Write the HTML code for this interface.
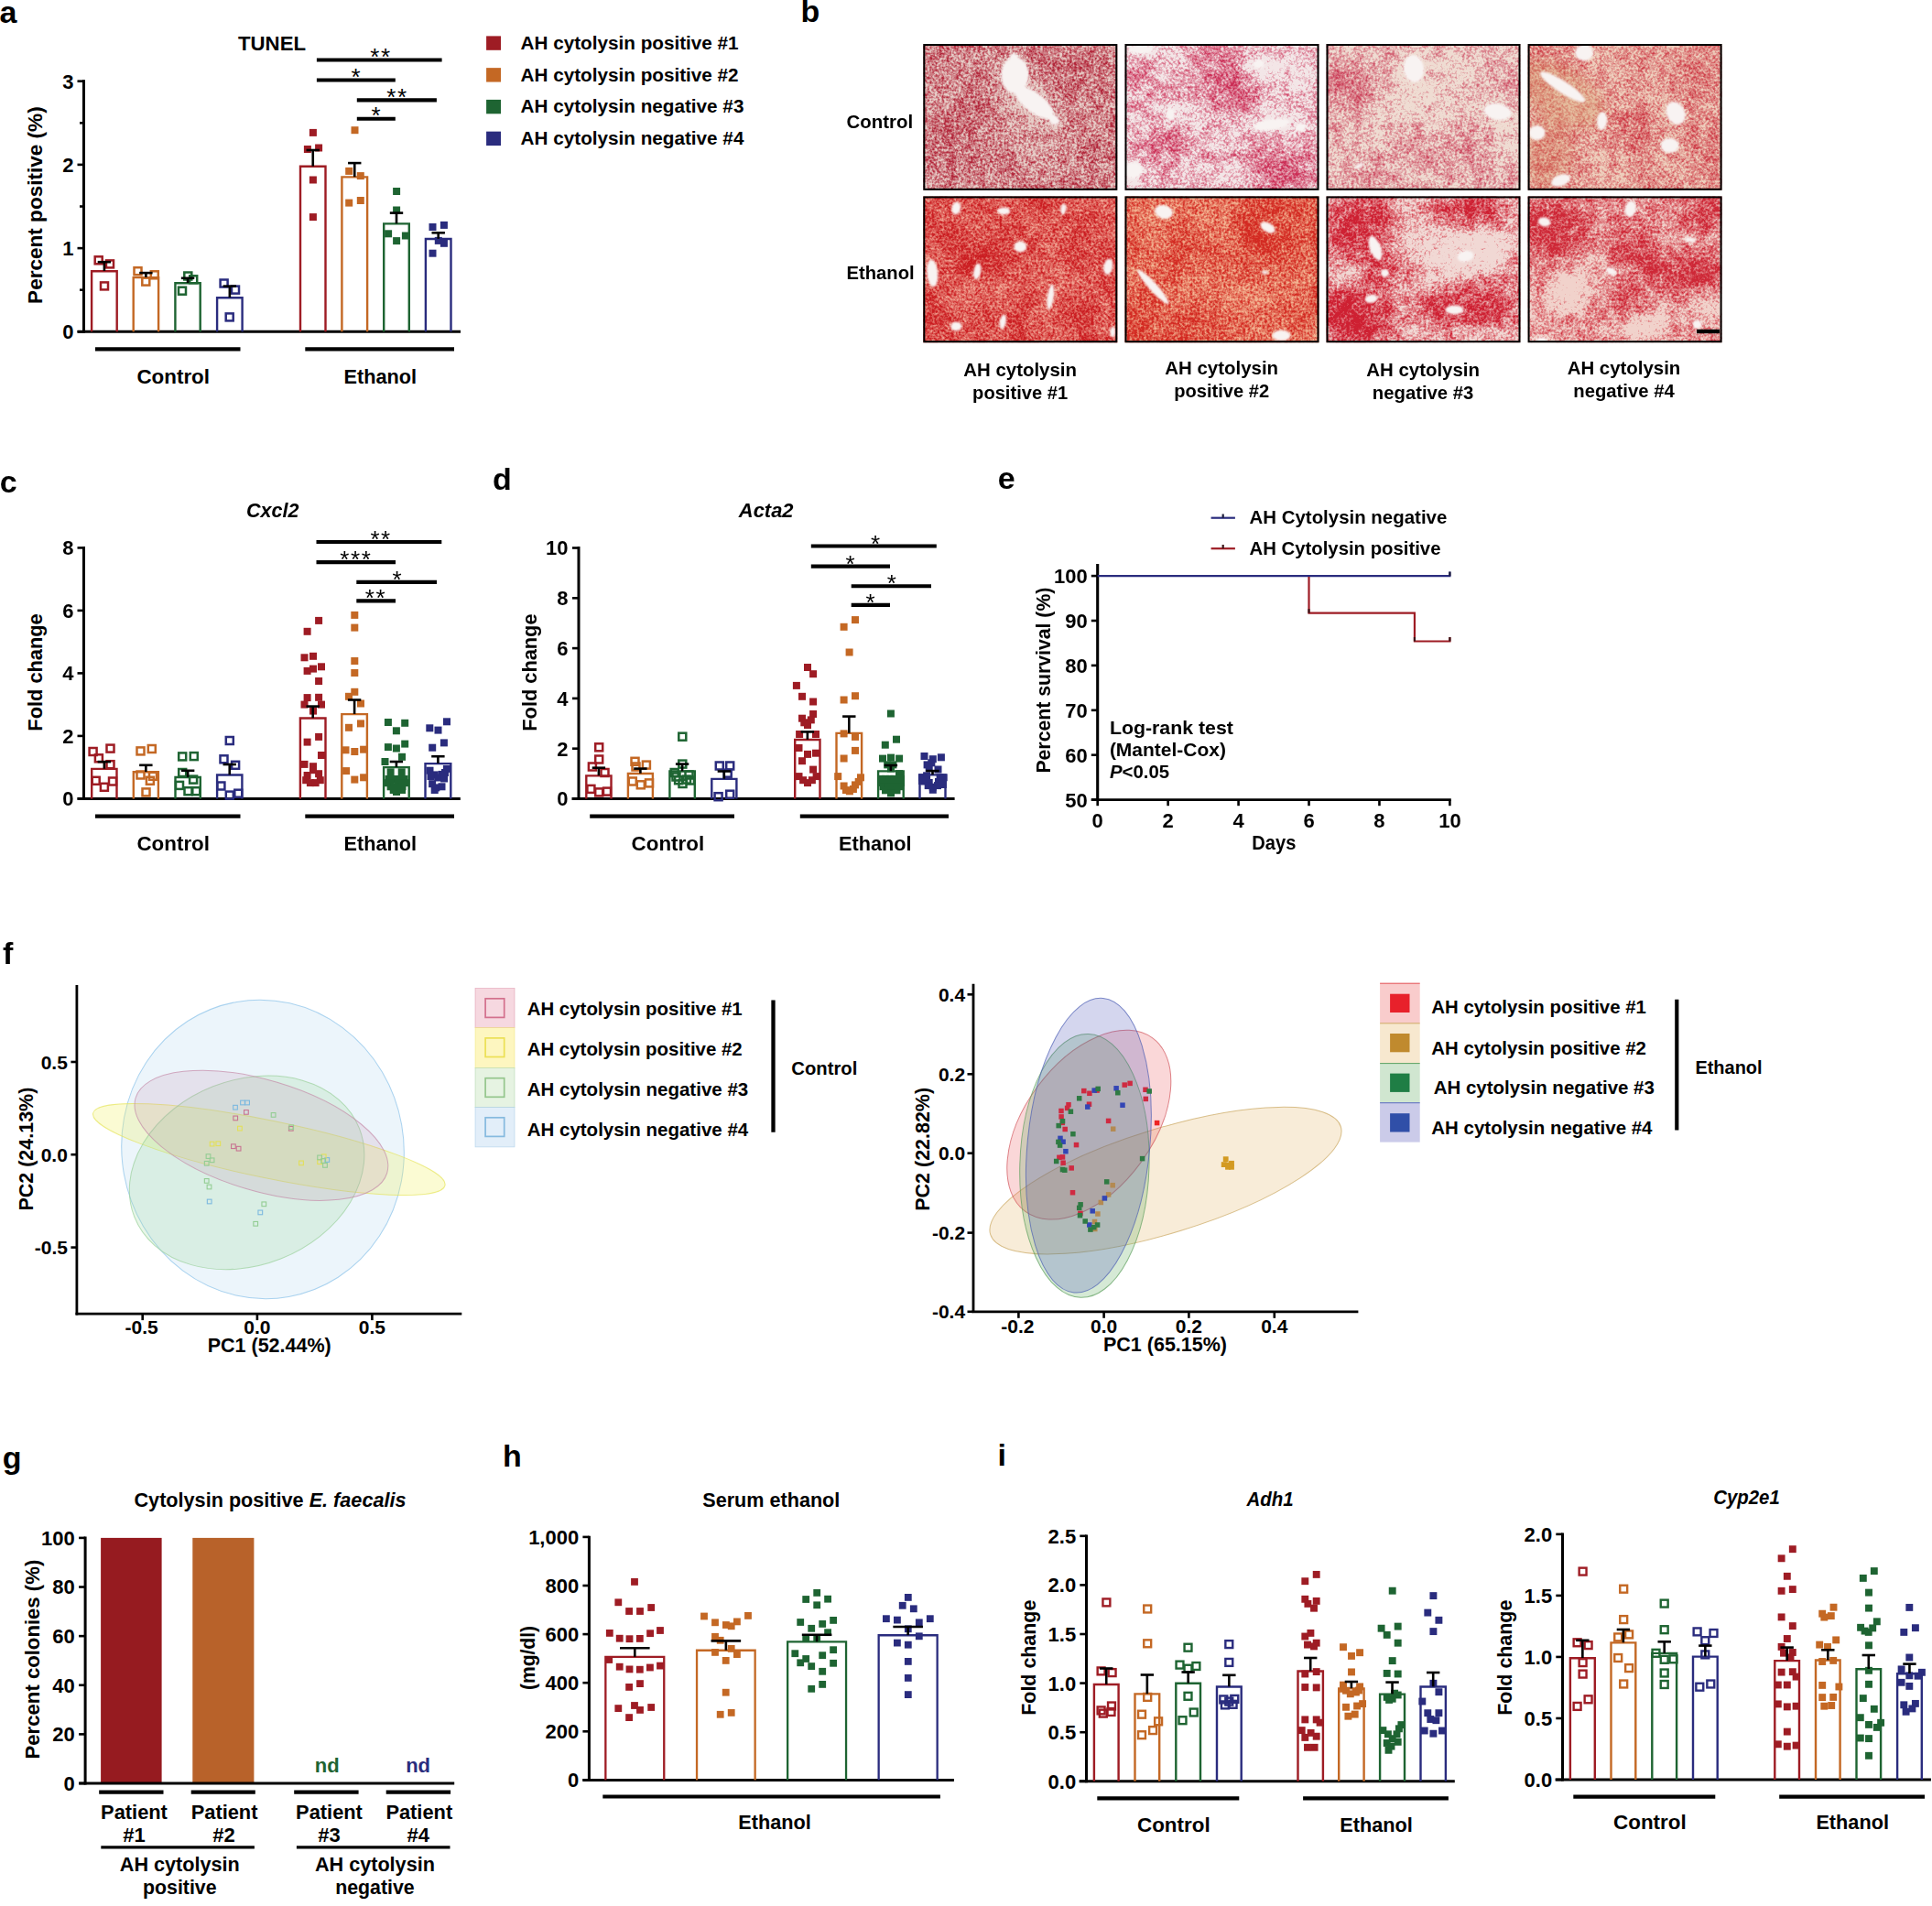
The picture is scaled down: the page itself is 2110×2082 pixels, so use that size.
<!DOCTYPE html>
<html><head><meta charset="utf-8"><title>Figure</title>
<style>html,body{margin:0;padding:0;background:#fff;overflow:hidden}svg{display:block}</style></head>
<body><svg width="2110" height="2082" viewBox="0 0 2110 2082" font-family="'Liberation Sans', sans-serif" font-weight="bold" shape-rendering="geometricPrecision">
<rect x="0" y="0" width="2110" height="2082" fill="#fff"/>
<text x="-0.4" y="25.4" font-size="34" font-weight="bold" text-anchor="start">a</text>
<text x="297" y="54.7" font-size="22" font-weight="bold" text-anchor="middle" textLength="74" lengthAdjust="spacingAndGlyphs">TUNEL</text>
<text x="46.2" y="224.1" font-size="22.6" font-weight="bold" text-anchor="middle" textLength="215.6" lengthAdjust="spacingAndGlyphs" transform="rotate(-90 46.2 224.1)">Percent positive (%)</text>
<line x1="84.6" y1="362.3" x2="503" y2="362.3" stroke="#000" stroke-width="3"/>
<line x1="91.5" y1="87.3" x2="91.5" y2="363.7" stroke="#000" stroke-width="3"/>
<line x1="84.5" y1="362.3" x2="91.5" y2="362.3" stroke="#000" stroke-width="2.6"/>
<text x="80.6" y="370.18" font-size="22" font-weight="bold" text-anchor="end">0</text>
<line x1="84.5" y1="271.1" x2="91.5" y2="271.1" stroke="#000" stroke-width="2.6"/>
<text x="80.6" y="278.98" font-size="22" font-weight="bold" text-anchor="end">1</text>
<line x1="84.5" y1="179.9" x2="91.5" y2="179.9" stroke="#000" stroke-width="2.6"/>
<text x="80.6" y="187.78" font-size="22" font-weight="bold" text-anchor="end">2</text>
<line x1="84.5" y1="88.7" x2="91.5" y2="88.7" stroke="#000" stroke-width="2.6"/>
<text x="80.6" y="96.58" font-size="22" font-weight="bold" text-anchor="end">3</text>
<line x1="87" y1="316.7" x2="91.5" y2="316.7" stroke="#000" stroke-width="2.6"/>
<line x1="87" y1="225.5" x2="91.5" y2="225.5" stroke="#000" stroke-width="2.6"/>
<line x1="87" y1="134.3" x2="91.5" y2="134.3" stroke="#000" stroke-width="2.6"/>
<path d="M100.1 362.3 V296.2 H127.7 V362.3" fill="none" stroke="#9E1C24" stroke-width="2.4"/>
<rect x="103.7" y="280.3" width="8" height="8" fill="none" stroke="#9E1C24" stroke-width="2.5"/>
<rect x="116" y="284.4" width="8" height="8" fill="none" stroke="#9E1C24" stroke-width="2.5"/>
<rect x="110" y="308.4" width="8" height="8" fill="none" stroke="#9E1C24" stroke-width="2.5"/>
<line x1="106.7" y1="286.2" x2="121.1" y2="286.2" stroke="#000" stroke-width="2.6"/>
<line x1="113.9" y1="286.2" x2="113.9" y2="296" stroke="#000" stroke-width="2.6"/>
<path d="M145.7 362.3 V303.1 H173.1 V362.3" fill="none" stroke="#C46824" stroke-width="2.4"/>
<rect x="146.5" y="292.2" width="8" height="8" fill="none" stroke="#C46824" stroke-width="2.5"/>
<rect x="164.8" y="296.3" width="8" height="8" fill="none" stroke="#C46824" stroke-width="2.5"/>
<rect x="155.3" y="303.6" width="8" height="8" fill="none" stroke="#C46824" stroke-width="2.5"/>
<line x1="152.2" y1="298.1" x2="166.6" y2="298.1" stroke="#000" stroke-width="2.6"/>
<line x1="159.4" y1="298.1" x2="159.4" y2="302.9" stroke="#000" stroke-width="2.6"/>
<path d="M191.4 362.3 V309.2 H218.7 V362.3" fill="none" stroke="#1E6432" stroke-width="2.4"/>
<rect x="201.3" y="297.5" width="8" height="8" fill="none" stroke="#1E6432" stroke-width="2.5"/>
<rect x="207.2" y="301.3" width="8" height="8" fill="none" stroke="#1E6432" stroke-width="2.5"/>
<rect x="195" y="313.7" width="8" height="8" fill="none" stroke="#1E6432" stroke-width="2.5"/>
<line x1="197.85" y1="303.8" x2="212.25" y2="303.8" stroke="#000" stroke-width="2.6"/>
<line x1="205.05" y1="303.8" x2="205.05" y2="309" stroke="#000" stroke-width="2.6"/>
<path d="M237.1 362.3 V325.2 H264.6 V362.3" fill="none" stroke="#2A2C7E" stroke-width="2.4"/>
<rect x="240.6" y="305.5" width="8" height="8" fill="none" stroke="#2A2C7E" stroke-width="2.5"/>
<rect x="253" y="312.6" width="8" height="8" fill="none" stroke="#2A2C7E" stroke-width="2.5"/>
<rect x="246.7" y="342.4" width="8" height="8" fill="none" stroke="#2A2C7E" stroke-width="2.5"/>
<line x1="243.65" y1="312.6" x2="258.05" y2="312.6" stroke="#000" stroke-width="2.6"/>
<line x1="250.85" y1="312.6" x2="250.85" y2="325" stroke="#000" stroke-width="2.6"/>
<path d="M328 362.3 V181.8 H355.5 V362.3" fill="none" stroke="#9E1C24" stroke-width="2.4"/>
<rect x="337.9" y="140.9" width="8" height="8" fill="#9E1C24"/>
<rect x="331.9" y="159" width="8" height="8" fill="#9E1C24"/>
<rect x="344.1" y="157.5" width="8" height="8" fill="#9E1C24"/>
<rect x="337.9" y="192.5" width="8" height="8" fill="#9E1C24"/>
<rect x="337.9" y="233.1" width="8" height="8" fill="#9E1C24"/>
<line x1="334.55" y1="164" x2="348.95" y2="164" stroke="#000" stroke-width="2.6"/>
<line x1="341.75" y1="164" x2="341.75" y2="181.6" stroke="#000" stroke-width="2.6"/>
<path d="M373.4 362.3 V193.4 H401.1 V362.3" fill="none" stroke="#C46824" stroke-width="2.4"/>
<rect x="383.5" y="138.2" width="8" height="8" fill="#C46824"/>
<rect x="377.2" y="182.9" width="8" height="8" fill="#C46824"/>
<rect x="389.8" y="188.1" width="8" height="8" fill="#C46824"/>
<rect x="377.2" y="217.6" width="8" height="8" fill="#C46824"/>
<rect x="389.8" y="215" width="8" height="8" fill="#C46824"/>
<line x1="380.05" y1="178.1" x2="394.45" y2="178.1" stroke="#000" stroke-width="2.6"/>
<line x1="387.25" y1="178.1" x2="387.25" y2="193.2" stroke="#000" stroke-width="2.6"/>
<path d="M419.2 362.3 V244.4 H446.8 V362.3" fill="none" stroke="#1E6432" stroke-width="2.4"/>
<rect x="429.1" y="205" width="8" height="8" fill="#1E6432"/>
<rect x="429.1" y="225.5" width="8" height="8" fill="#1E6432"/>
<rect x="420.1" y="251.3" width="8" height="8" fill="#1E6432"/>
<rect x="438.9" y="253.5" width="8" height="8" fill="#1E6432"/>
<rect x="429.1" y="259.1" width="8" height="8" fill="#1E6432"/>
<line x1="425.8" y1="232.6" x2="440.2" y2="232.6" stroke="#000" stroke-width="2.6"/>
<line x1="433" y1="232.6" x2="433" y2="244.2" stroke="#000" stroke-width="2.6"/>
<path d="M464.9 362.3 V261 H492.5 V362.3" fill="none" stroke="#2A2C7E" stroke-width="2.4"/>
<rect x="468.5" y="244" width="8" height="8" fill="#2A2C7E"/>
<rect x="480.9" y="241.9" width="8" height="8" fill="#2A2C7E"/>
<rect x="474.8" y="258.9" width="8" height="8" fill="#2A2C7E"/>
<rect x="480.9" y="261.8" width="8" height="8" fill="#2A2C7E"/>
<rect x="468.5" y="272.7" width="8" height="8" fill="#2A2C7E"/>
<line x1="471.5" y1="254.3" x2="485.9" y2="254.3" stroke="#000" stroke-width="2.6"/>
<line x1="478.7" y1="254.3" x2="478.7" y2="260.8" stroke="#000" stroke-width="2.6"/>
<line x1="104" y1="381.4" x2="262.5" y2="381.4" stroke="#000" stroke-width="4.2"/>
<line x1="333.3" y1="381.4" x2="496" y2="381.4" stroke="#000" stroke-width="4.2"/>
<text x="189.2" y="419" font-size="22" font-weight="bold" text-anchor="middle" textLength="79.6" lengthAdjust="spacingAndGlyphs">Control</text>
<text x="415.3" y="419" font-size="22" font-weight="bold" text-anchor="middle" textLength="79.6" lengthAdjust="spacingAndGlyphs">Ethanol</text>
<line x1="345.9" y1="65.5" x2="482.6" y2="65.5" stroke="#000" stroke-width="4.1"/>
<text x="416" y="71.2" font-size="26" font-weight="normal" text-anchor="middle" letter-spacing="1.6">**</text>
<line x1="345.9" y1="87.5" x2="431.8" y2="87.5" stroke="#000" stroke-width="4.1"/>
<text x="388.5" y="93.1" font-size="26" font-weight="normal" text-anchor="middle">*</text>
<line x1="389.8" y1="109.4" x2="476.9" y2="109.4" stroke="#000" stroke-width="4.1"/>
<text x="433.9" y="114.8" font-size="26" font-weight="normal" text-anchor="middle" letter-spacing="1.6">**</text>
<line x1="389.8" y1="129.8" x2="431.8" y2="129.8" stroke="#000" stroke-width="4.1"/>
<text x="410.5" y="135.2" font-size="26" font-weight="normal" text-anchor="middle">*</text>
<rect x="531.1" y="39.4" width="15.9" height="15.4" fill="#9E1C24"/>
<text x="568.6" y="53.8" font-size="20.7" font-weight="bold" text-anchor="start" textLength="238" lengthAdjust="spacingAndGlyphs">AH cytolysin positive #1</text>
<rect x="531.1" y="74.15" width="15.9" height="15.4" fill="#C46824"/>
<text x="568.6" y="88.6" font-size="20.7" font-weight="bold" text-anchor="start" textLength="238" lengthAdjust="spacingAndGlyphs">AH cytolysin positive #2</text>
<rect x="531.1" y="108.9" width="15.9" height="15.4" fill="#1E6432"/>
<text x="568.6" y="123.4" font-size="20.7" font-weight="bold" text-anchor="start" textLength="243.8" lengthAdjust="spacingAndGlyphs">AH cytolysin negative #3</text>
<rect x="531.1" y="143.65" width="15.9" height="15.4" fill="#2A2C7E"/>
<text x="568.6" y="158.2" font-size="20.7" font-weight="bold" text-anchor="start" textLength="243.8" lengthAdjust="spacingAndGlyphs">AH cytolysin negative #4</text>
<text x="874.5" y="24.1" font-size="34" font-weight="bold" text-anchor="start">b</text>
<defs>
<filter id="fb00" x="0" y="0" width="1" height="1" color-interpolation-filters="sRGB"><feColorMatrix in="SourceGraphic" type="matrix" values="0 0 0 0 0 0 0 0 0 0 0 0 0 0 0 1 0 0 0 0" result="dA"/><feTurbulence type="fractalNoise" baseFrequency="0.38" numOctaves="2" seed="3" result="h"/><feColorMatrix in="h" type="matrix" values="0 0 0 0 0 0 0 0 0 0 0 0 0 0 0 1 0 0 0 0" result="hA"/><feTurbulence type="fractalNoise" baseFrequency="0.02" numOctaves="2" seed="14" result="l"/><feColorMatrix in="l" type="matrix" values="0 0 0 0 0 0 0 0 0 0 0 0 0 0 0 0 1 0 0 0" result="lA"/><feComposite in="hA" in2="lA" operator="arithmetic" k1="0" k2="0.6" k3="0.15" k4="0" result="m"/><feTurbulence type="fractalNoise" baseFrequency="0.09" numOctaves="2" seed="26" result="q"/><feColorMatrix in="q" type="matrix" values="0 0 0 0 0 0 0 0 0 0 0 0 0 0 0 0 0 1 0 0" result="qA"/><feComposite in="m" in2="qA" operator="arithmetic" k1="0" k2="1" k3="0.25" k4="0" result="m2"/><feComposite in="m2" in2="dA" operator="arithmetic" k1="0" k2="1" k3="0.22" k4="-0.11" result="m3"/><feComponentTransfer in="m3" result="t"><feFuncA type="linear" slope="3.2" intercept="-1.15"/></feComponentTransfer><feFlood flood-color="rgb(178,38,58)" result="sc"/><feComposite in="sc" in2="t" operator="in" result="sp"/><feFlood flood-color="rgb(231,206,200)" result="bg"/><feMerge result="mg"><feMergeNode in="bg"/><feMergeNode in="sp"/></feMerge><feGaussianBlur in="mg" stdDeviation="0.45"/></filter>
<filter id="fb01" x="0" y="0" width="1" height="1" color-interpolation-filters="sRGB"><feColorMatrix in="SourceGraphic" type="matrix" values="0 0 0 0 0 0 0 0 0 0 0 0 0 0 0 1 0 0 0 0" result="dA"/><feTurbulence type="fractalNoise" baseFrequency="0.38" numOctaves="2" seed="7" result="h"/><feColorMatrix in="h" type="matrix" values="0 0 0 0 0 0 0 0 0 0 0 0 0 0 0 1 0 0 0 0" result="hA"/><feTurbulence type="fractalNoise" baseFrequency="0.016" numOctaves="2" seed="18" result="l"/><feColorMatrix in="l" type="matrix" values="0 0 0 0 0 0 0 0 0 0 0 0 0 0 0 0 1 0 0 0" result="lA"/><feComposite in="hA" in2="lA" operator="arithmetic" k1="0" k2="0.5" k3="0.2" k4="0" result="m"/><feTurbulence type="fractalNoise" baseFrequency="0.09" numOctaves="2" seed="30" result="q"/><feColorMatrix in="q" type="matrix" values="0 0 0 0 0 0 0 0 0 0 0 0 0 0 0 0 0 1 0 0" result="qA"/><feComposite in="m" in2="qA" operator="arithmetic" k1="0" k2="1" k3="0.3" k4="0" result="m2"/><feComposite in="m2" in2="dA" operator="arithmetic" k1="0" k2="1" k3="0.32" k4="-0.16" result="m3"/><feComponentTransfer in="m3" result="t"><feFuncA type="linear" slope="3.2" intercept="-1.32"/></feComponentTransfer><feFlood flood-color="rgb(203,45,85)" result="sc"/><feComposite in="sc" in2="t" operator="in" result="sp"/><feFlood flood-color="rgb(243,230,231)" result="bg"/><feMerge result="mg"><feMergeNode in="bg"/><feMergeNode in="sp"/></feMerge><feGaussianBlur in="mg" stdDeviation="0.45"/></filter>
<filter id="fb02" x="0" y="0" width="1" height="1" color-interpolation-filters="sRGB"><feColorMatrix in="SourceGraphic" type="matrix" values="0 0 0 0 0 0 0 0 0 0 0 0 0 0 0 1 0 0 0 0" result="dA"/><feTurbulence type="fractalNoise" baseFrequency="0.38" numOctaves="2" seed="12" result="h"/><feColorMatrix in="h" type="matrix" values="0 0 0 0 0 0 0 0 0 0 0 0 0 0 0 1 0 0 0 0" result="hA"/><feTurbulence type="fractalNoise" baseFrequency="0.015" numOctaves="2" seed="23" result="l"/><feColorMatrix in="l" type="matrix" values="0 0 0 0 0 0 0 0 0 0 0 0 0 0 0 0 1 0 0 0" result="lA"/><feComposite in="hA" in2="lA" operator="arithmetic" k1="0" k2="0.5" k3="0.2" k4="0" result="m"/><feTurbulence type="fractalNoise" baseFrequency="0.09" numOctaves="2" seed="35" result="q"/><feColorMatrix in="q" type="matrix" values="0 0 0 0 0 0 0 0 0 0 0 0 0 0 0 0 0 1 0 0" result="qA"/><feComposite in="m" in2="qA" operator="arithmetic" k1="0" k2="1" k3="0.3" k4="0" result="m2"/><feComposite in="m2" in2="dA" operator="arithmetic" k1="0" k2="1" k3="0.28" k4="-0.14" result="m3"/><feComponentTransfer in="m3" result="t"><feFuncA type="linear" slope="3.2" intercept="-1.31"/></feComponentTransfer><feFlood flood-color="rgb(203,65,90)" result="sc"/><feComposite in="sc" in2="t" operator="in" result="sp"/><feFlood flood-color="rgb(239,220,210)" result="bg"/><feMerge result="mg"><feMergeNode in="bg"/><feMergeNode in="sp"/></feMerge><feGaussianBlur in="mg" stdDeviation="0.45"/></filter>
<filter id="fb03" x="0" y="0" width="1" height="1" color-interpolation-filters="sRGB"><feColorMatrix in="SourceGraphic" type="matrix" values="0 0 0 0 0 0 0 0 0 0 0 0 0 0 0 1 0 0 0 0" result="dA"/><feTurbulence type="fractalNoise" baseFrequency="0.38" numOctaves="2" seed="21" result="h"/><feColorMatrix in="h" type="matrix" values="0 0 0 0 0 0 0 0 0 0 0 0 0 0 0 1 0 0 0 0" result="hA"/><feTurbulence type="fractalNoise" baseFrequency="0.018" numOctaves="2" seed="32" result="l"/><feColorMatrix in="l" type="matrix" values="0 0 0 0 0 0 0 0 0 0 0 0 0 0 0 0 1 0 0 0" result="lA"/><feComposite in="hA" in2="lA" operator="arithmetic" k1="0" k2="0.55" k3="0.2" k4="0" result="m"/><feTurbulence type="fractalNoise" baseFrequency="0.09" numOctaves="2" seed="44" result="q"/><feColorMatrix in="q" type="matrix" values="0 0 0 0 0 0 0 0 0 0 0 0 0 0 0 0 0 1 0 0" result="qA"/><feComposite in="m" in2="qA" operator="arithmetic" k1="0" k2="1" k3="0.25" k4="0" result="m2"/><feComposite in="m2" in2="dA" operator="arithmetic" k1="0" k2="1" k3="0.24" k4="-0.12" result="m3"/><feComponentTransfer in="m3" result="t"><feFuncA type="linear" slope="3.2" intercept="-1.24"/></feComponentTransfer><feFlood flood-color="rgb(205,58,70)" result="sc"/><feComposite in="sc" in2="t" operator="in" result="sp"/><feFlood flood-color="rgb(238,206,188)" result="bg"/><feMerge result="mg"><feMergeNode in="bg"/><feMergeNode in="sp"/></feMerge><feGaussianBlur in="mg" stdDeviation="0.45"/></filter>
<filter id="fb10" x="0" y="0" width="1" height="1" color-interpolation-filters="sRGB"><feColorMatrix in="SourceGraphic" type="matrix" values="0 0 0 0 0 0 0 0 0 0 0 0 0 0 0 1 0 0 0 0" result="dA"/><feTurbulence type="fractalNoise" baseFrequency="0.38" numOctaves="2" seed="31" result="h"/><feColorMatrix in="h" type="matrix" values="0 0 0 0 0 0 0 0 0 0 0 0 0 0 0 1 0 0 0 0" result="hA"/><feTurbulence type="fractalNoise" baseFrequency="0.03" numOctaves="2" seed="42" result="l"/><feColorMatrix in="l" type="matrix" values="0 0 0 0 0 0 0 0 0 0 0 0 0 0 0 0 1 0 0 0" result="lA"/><feComposite in="hA" in2="lA" operator="arithmetic" k1="0" k2="0.6" k3="0.2" k4="0" result="m"/><feTurbulence type="fractalNoise" baseFrequency="0.09" numOctaves="2" seed="54" result="q"/><feColorMatrix in="q" type="matrix" values="0 0 0 0 0 0 0 0 0 0 0 0 0 0 0 0 0 1 0 0" result="qA"/><feComposite in="m" in2="qA" operator="arithmetic" k1="0" k2="1" k3="0.2" k4="0" result="m2"/><feComposite in="m2" in2="dA" operator="arithmetic" k1="0" k2="1" k3="0.25" k4="-0.12" result="m3"/><feComponentTransfer in="m3" result="t"><feFuncA type="linear" slope="3.2" intercept="-1.02"/></feComponentTransfer><feFlood flood-color="rgb(203,30,34)" result="sc"/><feComposite in="sc" in2="t" operator="in" result="sp"/><feFlood flood-color="rgb(241,165,148)" result="bg"/><feMerge result="mg"><feMergeNode in="bg"/><feMergeNode in="sp"/></feMerge><feGaussianBlur in="mg" stdDeviation="0.45"/></filter>
<filter id="fb11" x="0" y="0" width="1" height="1" color-interpolation-filters="sRGB"><feColorMatrix in="SourceGraphic" type="matrix" values="0 0 0 0 0 0 0 0 0 0 0 0 0 0 0 1 0 0 0 0" result="dA"/><feTurbulence type="fractalNoise" baseFrequency="0.38" numOctaves="2" seed="41" result="h"/><feColorMatrix in="h" type="matrix" values="0 0 0 0 0 0 0 0 0 0 0 0 0 0 0 1 0 0 0 0" result="hA"/><feTurbulence type="fractalNoise" baseFrequency="0.02" numOctaves="2" seed="52" result="l"/><feColorMatrix in="l" type="matrix" values="0 0 0 0 0 0 0 0 0 0 0 0 0 0 0 0 1 0 0 0" result="lA"/><feComposite in="hA" in2="lA" operator="arithmetic" k1="0" k2="0.6" k3="0.2" k4="0" result="m"/><feTurbulence type="fractalNoise" baseFrequency="0.09" numOctaves="2" seed="64" result="q"/><feColorMatrix in="q" type="matrix" values="0 0 0 0 0 0 0 0 0 0 0 0 0 0 0 0 0 1 0 0" result="qA"/><feComposite in="m" in2="qA" operator="arithmetic" k1="0" k2="1" k3="0.2" k4="0" result="m2"/><feComposite in="m2" in2="dA" operator="arithmetic" k1="0" k2="1" k3="0.22" k4="-0.11" result="m3"/><feComponentTransfer in="m3" result="t"><feFuncA type="linear" slope="3.2" intercept="-1.03"/></feComponentTransfer><feFlood flood-color="rgb(211,42,34)" result="sc"/><feComposite in="sc" in2="t" operator="in" result="sp"/><feFlood flood-color="rgb(243,180,146)" result="bg"/><feMerge result="mg"><feMergeNode in="bg"/><feMergeNode in="sp"/></feMerge><feGaussianBlur in="mg" stdDeviation="0.45"/></filter>
<filter id="fb12" x="0" y="0" width="1" height="1" color-interpolation-filters="sRGB"><feColorMatrix in="SourceGraphic" type="matrix" values="0 0 0 0 0 0 0 0 0 0 0 0 0 0 0 1 0 0 0 0" result="dA"/><feTurbulence type="fractalNoise" baseFrequency="0.38" numOctaves="2" seed="52" result="h"/><feColorMatrix in="h" type="matrix" values="0 0 0 0 0 0 0 0 0 0 0 0 0 0 0 1 0 0 0 0" result="hA"/><feTurbulence type="fractalNoise" baseFrequency="0.014" numOctaves="2" seed="63" result="l"/><feColorMatrix in="l" type="matrix" values="0 0 0 0 0 0 0 0 0 0 0 0 0 0 0 0 1 0 0 0" result="lA"/><feComposite in="hA" in2="lA" operator="arithmetic" k1="0" k2="0.5" k3="0.2" k4="0" result="m"/><feTurbulence type="fractalNoise" baseFrequency="0.09" numOctaves="2" seed="75" result="q"/><feColorMatrix in="q" type="matrix" values="0 0 0 0 0 0 0 0 0 0 0 0 0 0 0 0 0 1 0 0" result="qA"/><feComposite in="m" in2="qA" operator="arithmetic" k1="0" k2="1" k3="0.3" k4="0" result="m2"/><feComposite in="m2" in2="dA" operator="arithmetic" k1="0" k2="1" k3="0.42" k4="-0.21" result="m3"/><feComponentTransfer in="m3" result="t"><feFuncA type="linear" slope="3.2" intercept="-1.21"/></feComponentTransfer><feFlood flood-color="rgb(206,32,50)" result="sc"/><feComposite in="sc" in2="t" operator="in" result="sp"/><feFlood flood-color="rgb(241,216,212)" result="bg"/><feMerge result="mg"><feMergeNode in="bg"/><feMergeNode in="sp"/></feMerge><feGaussianBlur in="mg" stdDeviation="0.45"/></filter>
<filter id="fb13" x="0" y="0" width="1" height="1" color-interpolation-filters="sRGB"><feColorMatrix in="SourceGraphic" type="matrix" values="0 0 0 0 0 0 0 0 0 0 0 0 0 0 0 1 0 0 0 0" result="dA"/><feTurbulence type="fractalNoise" baseFrequency="0.38" numOctaves="2" seed="63" result="h"/><feColorMatrix in="h" type="matrix" values="0 0 0 0 0 0 0 0 0 0 0 0 0 0 0 1 0 0 0 0" result="hA"/><feTurbulence type="fractalNoise" baseFrequency="0.016" numOctaves="2" seed="74" result="l"/><feColorMatrix in="l" type="matrix" values="0 0 0 0 0 0 0 0 0 0 0 0 0 0 0 0 1 0 0 0" result="lA"/><feComposite in="hA" in2="lA" operator="arithmetic" k1="0" k2="0.5" k3="0.2" k4="0" result="m"/><feTurbulence type="fractalNoise" baseFrequency="0.09" numOctaves="2" seed="86" result="q"/><feColorMatrix in="q" type="matrix" values="0 0 0 0 0 0 0 0 0 0 0 0 0 0 0 0 0 1 0 0" result="qA"/><feComposite in="m" in2="qA" operator="arithmetic" k1="0" k2="1" k3="0.3" k4="0" result="m2"/><feComposite in="m2" in2="dA" operator="arithmetic" k1="0" k2="1" k3="0.4" k4="-0.2" result="m3"/><feComponentTransfer in="m3" result="t"><feFuncA type="linear" slope="3.2" intercept="-1.2"/></feComponentTransfer><feFlood flood-color="rgb(206,40,55)" result="sc"/><feComposite in="sc" in2="t" operator="in" result="sp"/><feFlood flood-color="rgb(241,210,203)" result="bg"/><feMerge result="mg"><feMergeNode in="bg"/><feMergeNode in="sp"/></feMerge><feGaussianBlur in="mg" stdDeviation="0.45"/></filter>
<filter id="bl2" x="-0.3" y="-0.3" width="1.6" height="1.6"><feGaussianBlur stdDeviation="1.1"/></filter>
<filter id="bl8" x="-0.5" y="-0.5" width="2" height="2"><feGaussianBlur stdDeviation="7"/></filter>
<clipPath id="cb00"><rect x="1008.3" y="48" width="212" height="159.8"/></clipPath>
<clipPath id="cb01"><rect x="1228.5" y="48" width="212" height="159.8"/></clipPath>
<clipPath id="cb02"><rect x="1448.5" y="48" width="212" height="159.8"/></clipPath>
<clipPath id="cb03"><rect x="1668.6" y="48" width="212" height="159.8"/></clipPath>
<clipPath id="cb10"><rect x="1008.3" y="214.4" width="212" height="159.8"/></clipPath>
<clipPath id="cb11"><rect x="1228.5" y="214.4" width="212" height="159.8"/></clipPath>
<clipPath id="cb12"><rect x="1448.5" y="214.4" width="212" height="159.8"/></clipPath>
<clipPath id="cb13"><rect x="1668.6" y="214.4" width="212" height="159.8"/></clipPath>
</defs>
<g clip-path="url(#cb00)">
<g filter="url(#fb00)">
<rect x="1008.3" y="48" width="212" height="159.8" fill="#808080"/>
<g filter="url(#bl8)">
<ellipse cx="1068.3" cy="73" rx="28" ry="14" fill="#000" fill-opacity="0.35" transform="rotate(0 1068.3 73)"/>
<ellipse cx="1128.3" cy="153" rx="45" ry="22" fill="#000" fill-opacity="0.35" transform="rotate(-20 1128.3 153)"/>
<ellipse cx="1178.3" cy="78" rx="30" ry="18" fill="#fff" fill-opacity="0.3" transform="rotate(0 1178.3 78)"/>
<ellipse cx="1038.3" cy="158" rx="30" ry="25" fill="#fff" fill-opacity="0.3" transform="rotate(0 1038.3 158)"/>
<ellipse cx="1108.3" cy="93" rx="32" ry="34" fill="#000" fill-opacity="0.5" transform="rotate(0 1108.3 93)"/>
<ellipse cx="1133.3" cy="116" rx="34" ry="18" fill="#000" fill-opacity="0.5" transform="rotate(38 1133.3 116)"/>
</g></g>
<g filter="url(#bl2)" fill="#f8f3f2">
<ellipse cx="1108.3" cy="82" rx="15" ry="20" transform="rotate(0 1108.3 82)"/>
<ellipse cx="1129.3" cy="112" rx="26" ry="10.5" transform="rotate(38 1129.3 112)"/>
<ellipse cx="1151.3" cy="131" rx="6" ry="5" transform="rotate(38 1151.3 131)"/>
<ellipse cx="1107.3" cy="64" rx="5" ry="6" transform="rotate(0 1107.3 64)"/>
</g>
</g>
<rect x="1009.3" y="49" width="210" height="157.8" fill="none" stroke="#000" stroke-width="2"/>
<g clip-path="url(#cb01)">
<g filter="url(#fb01)">
<rect x="1228.5" y="48" width="212" height="159.8" fill="#808080"/>
<g filter="url(#bl8)">
<ellipse cx="1245.5" cy="56" rx="20" ry="10" fill="#000" fill-opacity="0.8" transform="rotate(0 1245.5 56)"/>
<ellipse cx="1374.5" cy="70" rx="22" ry="14" fill="#000" fill-opacity="0.7" transform="rotate(0 1374.5 70)"/>
<ellipse cx="1413.5" cy="74" rx="22" ry="16" fill="#000" fill-opacity="0.7" transform="rotate(0 1413.5 74)"/>
<ellipse cx="1278.5" cy="125" rx="14" ry="12" fill="#000" fill-opacity="0.7" transform="rotate(0 1278.5 125)"/>
<ellipse cx="1301.5" cy="139" rx="14" ry="20" fill="#000" fill-opacity="0.55" transform="rotate(0 1301.5 139)"/>
<ellipse cx="1393.5" cy="136" rx="30" ry="12" fill="#000" fill-opacity="0.7" transform="rotate(0 1393.5 136)"/>
<ellipse cx="1237.5" cy="186" rx="16" ry="14" fill="#000" fill-opacity="0.7" transform="rotate(0 1237.5 186)"/>
<ellipse cx="1344.5" cy="147" rx="16" ry="12" fill="#000" fill-opacity="0.5" transform="rotate(0 1344.5 147)"/>
<ellipse cx="1295.5" cy="182" rx="18" ry="10" fill="#000" fill-opacity="0.55" transform="rotate(0 1295.5 182)"/>
<ellipse cx="1242.5" cy="81" rx="18" ry="14" fill="#fff" fill-opacity="0.55" transform="rotate(0 1242.5 81)"/>
<ellipse cx="1322.5" cy="66" rx="25" ry="14" fill="#fff" fill-opacity="0.55" transform="rotate(0 1322.5 66)"/>
<ellipse cx="1344.5" cy="98" rx="25" ry="14" fill="#fff" fill-opacity="0.55" transform="rotate(30 1344.5 98)"/>
<ellipse cx="1272.5" cy="154" rx="28" ry="14" fill="#fff" fill-opacity="0.55" transform="rotate(0 1272.5 154)"/>
<ellipse cx="1376.5" cy="164" rx="28" ry="16" fill="#fff" fill-opacity="0.55" transform="rotate(0 1376.5 164)"/>
<ellipse cx="1403.5" cy="190" rx="35" ry="16" fill="#fff" fill-opacity="0.6" transform="rotate(0 1403.5 190)"/>
</g></g>
<g filter="url(#bl2)" fill="#f8f3f2">
<ellipse cx="1388.5" cy="136" rx="20" ry="6" transform="rotate(-8 1388.5 136)"/>
<ellipse cx="1374.5" cy="70" rx="6" ry="5" transform="rotate(0 1374.5 70)"/>
<ellipse cx="1278.5" cy="125" rx="5" ry="7" transform="rotate(0 1278.5 125)"/>
<ellipse cx="1237.5" cy="186" rx="10" ry="9" transform="rotate(0 1237.5 186)"/>
<ellipse cx="1245.5" cy="54" rx="14" ry="5" transform="rotate(0 1245.5 54)"/>
<ellipse cx="1420.5" cy="139" rx="6" ry="5" transform="rotate(0 1420.5 139)"/>
</g>
</g>
<rect x="1229.5" y="49" width="210" height="157.8" fill="none" stroke="#000" stroke-width="2"/>
<g clip-path="url(#cb02)">
<g filter="url(#fb02)">
<rect x="1448.5" y="48" width="212" height="159.8" fill="#808080"/>
<g filter="url(#bl8)">
<ellipse cx="1518.5" cy="123" rx="55" ry="20" fill="#000" fill-opacity="0.55" transform="rotate(-35 1518.5 123)"/>
<ellipse cx="1598.5" cy="73" rx="35" ry="20" fill="#000" fill-opacity="0.5" transform="rotate(0 1598.5 73)"/>
<ellipse cx="1643.5" cy="148" rx="18" ry="30" fill="#000" fill-opacity="0.45" transform="rotate(0 1643.5 148)"/>
<ellipse cx="1484.5" cy="181" rx="16" ry="8" fill="#000" fill-opacity="0.5" transform="rotate(0 1484.5 181)"/>
<ellipse cx="1543.5" cy="75" rx="22" ry="26" fill="#000" fill-opacity="0.5" transform="rotate(0 1543.5 75)"/>
<ellipse cx="1635.5" cy="122" rx="26" ry="18" fill="#000" fill-opacity="0.5" transform="rotate(0 1635.5 122)"/>
<ellipse cx="1473.5" cy="88" rx="25" ry="22" fill="#fff" fill-opacity="0.4" transform="rotate(0 1473.5 88)"/>
<ellipse cx="1558.5" cy="168" rx="45" ry="18" fill="#fff" fill-opacity="0.4" transform="rotate(0 1558.5 168)"/>
<ellipse cx="1498.5" cy="188" rx="30" ry="12" fill="#fff" fill-opacity="0.35" transform="rotate(0 1498.5 188)"/>
</g></g>
<g filter="url(#bl2)" fill="#f8f3f2">
<ellipse cx="1544" cy="75" rx="11" ry="15" transform="rotate(-8 1544 75)"/>
<ellipse cx="1635.5" cy="122" rx="15" ry="9" transform="rotate(10 1635.5 122)"/>
<ellipse cx="1484.5" cy="181" rx="5" ry="2.5" transform="rotate(-30 1484.5 181)"/>
</g>
</g>
<rect x="1449.5" y="49" width="210" height="157.8" fill="none" stroke="#000" stroke-width="2"/>
<g clip-path="url(#cb03)">
<g filter="url(#fb03)">
<rect x="1668.6" y="48" width="212" height="159.8" fill="#808080"/>
<g filter="url(#bl8)">
<ellipse cx="1706.6" cy="95" rx="42" ry="18" fill="#000" fill-opacity="0.4" transform="rotate(33 1706.6 95)"/>
<ellipse cx="1828.6" cy="124" rx="22" ry="24" fill="#000" fill-opacity="0.35" transform="rotate(0 1828.6 124)"/>
<ellipse cx="1823.6" cy="160" rx="20" ry="16" fill="#000" fill-opacity="0.35" transform="rotate(0 1823.6 160)"/>
<ellipse cx="1838.6" cy="88" rx="40" ry="25" fill="#fff" fill-opacity="0.3" transform="rotate(0 1838.6 88)"/>
<ellipse cx="1788.6" cy="148" rx="30" ry="20" fill="#fff" fill-opacity="0.3" transform="rotate(0 1788.6 148)"/>
<ellipse cx="1858.6" cy="178" rx="25" ry="25" fill="#fff" fill-opacity="0.25" transform="rotate(0 1858.6 178)"/>
</g></g>
<g filter="url(#bl8)">
<ellipse cx="1703.6" cy="103" rx="55" ry="30" fill="rgb(215,160,110)" fill-opacity="0.4" transform="rotate(30 1703.6 103)"/>
<ellipse cx="1688.6" cy="168" rx="30" ry="40" fill="rgb(215,160,110)" fill-opacity="0.3" transform="rotate(0 1688.6 168)"/>
</g>
<g filter="url(#bl2)" fill="#f8f3f2">
<ellipse cx="1730.1" cy="57.5" rx="10" ry="9" transform="rotate(0 1730.1 57.5)"/>
<ellipse cx="1706.6" cy="95" rx="29" ry="6.5" transform="rotate(33 1706.6 95)"/>
<ellipse cx="1678.6" cy="145" rx="9" ry="8" transform="rotate(0 1678.6 145)"/>
<ellipse cx="1749.6" cy="132" rx="5.5" ry="10" transform="rotate(5 1749.6 132)"/>
<ellipse cx="1830.1" cy="123.5" rx="10" ry="13" transform="rotate(-25 1830.1 123.5)"/>
<ellipse cx="1823.6" cy="159" rx="10" ry="8" transform="rotate(0 1823.6 159)"/>
<ellipse cx="1704.6" cy="197" rx="11" ry="6" transform="rotate(-20 1704.6 197)"/>
</g>
</g>
<rect x="1669.6" y="49" width="210" height="157.8" fill="none" stroke="#000" stroke-width="2"/>
<g clip-path="url(#cb10)">
<g filter="url(#fb10)">
<rect x="1008.3" y="214.4" width="212" height="159.8" fill="#808080"/>
<g filter="url(#bl8)">
<ellipse cx="1108.3" cy="309.4" rx="60" ry="25" fill="#000" fill-opacity="0.2" transform="rotate(-20 1108.3 309.4)"/>
<ellipse cx="1068.3" cy="274.4" rx="40" ry="30" fill="#fff" fill-opacity="0.2" transform="rotate(0 1068.3 274.4)"/>
</g></g>
<g filter="url(#bl2)" fill="#f8f3f2">
<ellipse cx="1044.3" cy="227.4" rx="5" ry="7" transform="rotate(10 1044.3 227.4)"/>
<ellipse cx="1096.3" cy="230.4" rx="7" ry="4" transform="rotate(0 1096.3 230.4)"/>
<ellipse cx="1161.3" cy="228.4" rx="3" ry="6" transform="rotate(10 1161.3 228.4)"/>
<ellipse cx="1114.3" cy="269.4" rx="7" ry="6" transform="rotate(0 1114.3 269.4)"/>
<ellipse cx="1067.3" cy="296.4" rx="4" ry="9" transform="rotate(10 1067.3 296.4)"/>
<ellipse cx="1210.3" cy="291.4" rx="5" ry="9" transform="rotate(10 1210.3 291.4)"/>
<ellipse cx="1018.3" cy="298.4" rx="6" ry="15" transform="rotate(-5 1018.3 298.4)"/>
<ellipse cx="1147.3" cy="324.4" rx="3.5" ry="14" transform="rotate(8 1147.3 324.4)"/>
<ellipse cx="1095.3" cy="351.4" rx="3.5" ry="8" transform="rotate(10 1095.3 351.4)"/>
<ellipse cx="1044.3" cy="356.4" rx="6" ry="5" transform="rotate(0 1044.3 356.4)"/>
<ellipse cx="1215.3" cy="362.4" rx="3" ry="6" transform="rotate(0 1215.3 362.4)"/>
</g>
</g>
<rect x="1009.3" y="215.4" width="210" height="157.8" fill="none" stroke="#000" stroke-width="2"/>
<g clip-path="url(#cb11)">
<g filter="url(#fb11)">
<rect x="1228.5" y="214.4" width="212" height="159.8" fill="#808080"/>
<g filter="url(#bl8)">
<ellipse cx="1328.5" cy="302.4" rx="125" ry="18" fill="#000" fill-opacity="0.22" transform="rotate(33 1328.5 302.4)"/>
<ellipse cx="1253.5" cy="244.4" rx="35" ry="18" fill="#000" fill-opacity="0.2" transform="rotate(0 1253.5 244.4)"/>
<ellipse cx="1398.5" cy="249.4" rx="50" ry="30" fill="#fff" fill-opacity="0.35" transform="rotate(0 1398.5 249.4)"/>
<ellipse cx="1268.5" cy="344.4" rx="50" ry="25" fill="#fff" fill-opacity="0.35" transform="rotate(0 1268.5 344.4)"/>
<ellipse cx="1418.5" cy="334.4" rx="25" ry="30" fill="#fff" fill-opacity="0.2" transform="rotate(0 1418.5 334.4)"/>
</g></g>
<g filter="url(#bl2)" fill="#f8f3f2">
<ellipse cx="1271" cy="231.4" rx="10" ry="7.5" transform="rotate(15 1271 231.4)"/>
<ellipse cx="1384.5" cy="248.4" rx="9" ry="5" transform="rotate(30 1384.5 248.4)"/>
<ellipse cx="1259.5" cy="313.4" rx="25" ry="4.5" transform="rotate(48 1259.5 313.4)"/>
<ellipse cx="1399.5" cy="366.4" rx="10" ry="6" transform="rotate(0 1399.5 366.4)"/>
<ellipse cx="1381.5" cy="297.4" rx="3.5" ry="2" transform="rotate(0 1381.5 297.4)"/>
</g>
</g>
<rect x="1229.5" y="215.4" width="210" height="157.8" fill="none" stroke="#000" stroke-width="2"/>
<g clip-path="url(#cb12)">
<g filter="url(#fb12)">
<rect x="1448.5" y="214.4" width="212" height="159.8" fill="#808080"/>
<g filter="url(#bl8)">
<ellipse cx="1600.5" cy="276.4" rx="45" ry="28" fill="#000" fill-opacity="0.9" transform="rotate(-10 1600.5 276.4)"/>
<ellipse cx="1550.5" cy="258.4" rx="18" ry="16" fill="#000" fill-opacity="0.5" transform="rotate(0 1550.5 258.4)"/>
<ellipse cx="1466.5" cy="303.4" rx="20" ry="15" fill="#000" fill-opacity="0.75" transform="rotate(0 1466.5 303.4)"/>
<ellipse cx="1564.5" cy="317.4" rx="22" ry="12" fill="#000" fill-opacity="0.5" transform="rotate(0 1564.5 317.4)"/>
<ellipse cx="1644.5" cy="262.4" rx="14" ry="16" fill="#000" fill-opacity="0.5" transform="rotate(0 1644.5 262.4)"/>
<ellipse cx="1635.5" cy="369.4" rx="25" ry="10" fill="#000" fill-opacity="0.4" transform="rotate(0 1635.5 369.4)"/>
<ellipse cx="1546.5" cy="362.4" rx="25" ry="10" fill="#000" fill-opacity="0.4" transform="rotate(0 1546.5 362.4)"/>
<ellipse cx="1540.5" cy="222.4" rx="25" ry="8" fill="#000" fill-opacity="0.4" transform="rotate(0 1540.5 222.4)"/>
<ellipse cx="1484.5" cy="244.4" rx="38" ry="28" fill="#fff" fill-opacity="0.7" transform="rotate(0 1484.5 244.4)"/>
<ellipse cx="1600.5" cy="229.4" rx="42" ry="13" fill="#fff" fill-opacity="0.6" transform="rotate(0 1600.5 229.4)"/>
<ellipse cx="1484.5" cy="344.4" rx="40" ry="28" fill="#fff" fill-opacity="0.7" transform="rotate(0 1484.5 344.4)"/>
<ellipse cx="1600.5" cy="336.4" rx="50" ry="20" fill="#fff" fill-opacity="0.7" transform="rotate(0 1600.5 336.4)"/>
<ellipse cx="1510.5" cy="292.4" rx="20" ry="25" fill="#fff" fill-opacity="0.6" transform="rotate(0 1510.5 292.4)"/>
</g></g>
<g filter="url(#bl2)" fill="#f8f3f2">
<ellipse cx="1502" cy="270.9" rx="6" ry="14" transform="rotate(-20 1502 270.9)"/>
<ellipse cx="1512.5" cy="298.4" rx="4.5" ry="4.5" transform="rotate(0 1512.5 298.4)"/>
<ellipse cx="1497.5" cy="326.4" rx="7" ry="4.5" transform="rotate(-10 1497.5 326.4)"/>
<ellipse cx="1600.5" cy="279.9" rx="9" ry="6" transform="rotate(-10 1600.5 279.9)"/>
<ellipse cx="1588.5" cy="338.4" rx="10" ry="5" transform="rotate(0 1588.5 338.4)"/>
</g>
</g>
<rect x="1449.5" y="215.4" width="210" height="157.8" fill="none" stroke="#000" stroke-width="2"/>
<g clip-path="url(#cb13)">
<g filter="url(#fb13)">
<rect x="1668.6" y="214.4" width="212" height="159.8" fill="#808080"/>
<g filter="url(#bl8)">
<ellipse cx="1713.2" cy="317.4" rx="25" ry="21" fill="#000" fill-opacity="0.85" transform="rotate(0 1713.2 317.4)"/>
<ellipse cx="1798.6" cy="356.4" rx="26" ry="17" fill="#000" fill-opacity="0.8" transform="rotate(0 1798.6 356.4)"/>
<ellipse cx="1871.6" cy="331.4" rx="12" ry="20" fill="#000" fill-opacity="0.65" transform="rotate(0 1871.6 331.4)"/>
<ellipse cx="1759.6" cy="295.9" rx="13" ry="11" fill="#000" fill-opacity="0.5" transform="rotate(0 1759.6 295.9)"/>
<ellipse cx="1845.6" cy="262" rx="16" ry="9" fill="#000" fill-opacity="0.5" transform="rotate(0 1845.6 262)"/>
<ellipse cx="1686.6" cy="374.4" rx="20" ry="8" fill="#000" fill-opacity="0.5" transform="rotate(0 1686.6 374.4)"/>
<ellipse cx="1745.6" cy="251.4" rx="12" ry="12" fill="#000" fill-opacity="0.3" transform="rotate(0 1745.6 251.4)"/>
<ellipse cx="1704.6" cy="253.4" rx="38" ry="30" fill="#fff" fill-opacity="0.7" transform="rotate(0 1704.6 253.4)"/>
<ellipse cx="1838.6" cy="297.4" rx="45" ry="22" fill="#fff" fill-opacity="0.6" transform="rotate(0 1838.6 297.4)"/>
<ellipse cx="1784.6" cy="271.4" rx="30" ry="20" fill="#fff" fill-opacity="0.5" transform="rotate(0 1784.6 271.4)"/>
<ellipse cx="1778.6" cy="329.4" rx="20" ry="14" fill="#fff" fill-opacity="0.4" transform="rotate(0 1778.6 329.4)"/>
<ellipse cx="1858.6" cy="234.4" rx="25" ry="18" fill="#fff" fill-opacity="0.5" transform="rotate(0 1858.6 234.4)"/>
</g></g>
<g filter="url(#bl2)" fill="#f8f3f2">
<ellipse cx="1686.6" cy="242.4" rx="7" ry="5" transform="rotate(15 1686.6 242.4)"/>
<ellipse cx="1780.6" cy="228.4" rx="6" ry="9" transform="rotate(10 1780.6 228.4)"/>
<ellipse cx="1846.1" cy="262" rx="6" ry="2.5" transform="rotate(10 1846.1 262)"/>
<ellipse cx="1759.6" cy="296.4" rx="6" ry="4" transform="rotate(25 1759.6 296.4)"/>
<ellipse cx="1853.6" cy="354.4" rx="5" ry="5" transform="rotate(0 1853.6 354.4)"/>
<ellipse cx="1683.6" cy="371.4" rx="6" ry="3" transform="rotate(0 1683.6 371.4)"/>
</g>
</g>
<rect x="1669.6" y="215.4" width="210" height="157.8" fill="none" stroke="#000" stroke-width="2"/>
<rect x="1853.1" y="359.8" width="25" height="4.4" fill="#000"/>
<text x="924.6" y="140.4" font-size="20.4" font-weight="bold" text-anchor="start" textLength="72.5" lengthAdjust="spacingAndGlyphs">Control</text>
<text x="924.6" y="305.1" font-size="20.4" font-weight="bold" text-anchor="start" textLength="74" lengthAdjust="spacingAndGlyphs">Ethanol</text>
<text x="1114.1" y="411" font-size="20.4" font-weight="bold" text-anchor="middle" textLength="123.7" lengthAdjust="spacingAndGlyphs">AH cytolysin</text>
<text x="1114.1" y="435.6" font-size="20.4" font-weight="bold" text-anchor="middle" textLength="104" lengthAdjust="spacingAndGlyphs">positive #1</text>
<text x="1334.2" y="409.1" font-size="20.4" font-weight="bold" text-anchor="middle" textLength="123.7" lengthAdjust="spacingAndGlyphs">AH cytolysin</text>
<text x="1334.2" y="433.7" font-size="20.4" font-weight="bold" text-anchor="middle" textLength="104" lengthAdjust="spacingAndGlyphs">positive #2</text>
<text x="1554.1" y="411" font-size="20.4" font-weight="bold" text-anchor="middle" textLength="123.7" lengthAdjust="spacingAndGlyphs">AH cytolysin</text>
<text x="1554.1" y="435.6" font-size="20.4" font-weight="bold" text-anchor="middle" textLength="110.5" lengthAdjust="spacingAndGlyphs">negative #3</text>
<text x="1773.5" y="409.1" font-size="20.4" font-weight="bold" text-anchor="middle" textLength="123.7" lengthAdjust="spacingAndGlyphs">AH cytolysin</text>
<text x="1773.5" y="433.7" font-size="20.4" font-weight="bold" text-anchor="middle" textLength="110.5" lengthAdjust="spacingAndGlyphs">negative #4</text>
<text x="-0.2" y="537.5" font-size="34" font-weight="bold" text-anchor="start">c</text>
<text x="297.8" y="564.9" font-size="22" font-weight="bold" text-anchor="middle" font-style="italic" textLength="57.5" lengthAdjust="spacingAndGlyphs">Cxcl2</text>
<text x="46.3" y="734.5" font-size="22.6" font-weight="bold" text-anchor="middle" textLength="128.4" lengthAdjust="spacingAndGlyphs" transform="rotate(-90 46.3 734.5)">Fold change</text>
<line x1="84.6" y1="872.4" x2="502.8" y2="872.4" stroke="#000" stroke-width="3"/>
<line x1="91.5" y1="597" x2="91.5" y2="873.8" stroke="#000" stroke-width="3"/>
<line x1="84.5" y1="872.4" x2="91.5" y2="872.4" stroke="#000" stroke-width="2.6"/>
<text x="80.6" y="880.28" font-size="22" font-weight="bold" text-anchor="end">0</text>
<line x1="84.5" y1="803.9" x2="91.5" y2="803.9" stroke="#000" stroke-width="2.6"/>
<text x="80.6" y="811.78" font-size="22" font-weight="bold" text-anchor="end">2</text>
<line x1="84.5" y1="735.4" x2="91.5" y2="735.4" stroke="#000" stroke-width="2.6"/>
<text x="80.6" y="743.28" font-size="22" font-weight="bold" text-anchor="end">4</text>
<line x1="84.5" y1="666.9" x2="91.5" y2="666.9" stroke="#000" stroke-width="2.6"/>
<text x="80.6" y="674.78" font-size="22" font-weight="bold" text-anchor="end">6</text>
<line x1="84.5" y1="598.4" x2="91.5" y2="598.4" stroke="#000" stroke-width="2.6"/>
<text x="80.6" y="606.28" font-size="22" font-weight="bold" text-anchor="end">8</text>
<path d="M100.2 872.4 V839.9 H127.5 V872.4" fill="none" stroke="#9E1C24" stroke-width="2.4"/>
<rect x="97.6" y="817" width="8" height="8" fill="none" stroke="#9E1C24" stroke-width="2.5"/>
<rect x="116.5" y="813.6" width="8" height="8" fill="none" stroke="#9E1C24" stroke-width="2.5"/>
<rect x="103.9" y="824.3" width="8" height="8" fill="none" stroke="#9E1C24" stroke-width="2.5"/>
<rect x="116.5" y="831.2" width="8" height="8" fill="none" stroke="#9E1C24" stroke-width="2.5"/>
<rect x="100.7" y="848.8" width="8" height="8" fill="none" stroke="#9E1C24" stroke-width="2.5"/>
<rect x="119" y="849.5" width="8" height="8" fill="none" stroke="#9E1C24" stroke-width="2.5"/>
<rect x="109.9" y="855.8" width="8" height="8" fill="none" stroke="#9E1C24" stroke-width="2.5"/>
<line x1="106.65" y1="832.1" x2="121.05" y2="832.1" stroke="#000" stroke-width="2.6"/>
<line x1="113.85" y1="832.1" x2="113.85" y2="839.7" stroke="#000" stroke-width="2.6"/>
<path d="M145.8 872.4 V843.3 H172.9 V872.4" fill="none" stroke="#C46824" stroke-width="2.4"/>
<rect x="149.5" y="816.4" width="8" height="8" fill="none" stroke="#C46824" stroke-width="2.5"/>
<rect x="161.8" y="814" width="8" height="8" fill="none" stroke="#C46824" stroke-width="2.5"/>
<rect x="149.5" y="842.5" width="8" height="8" fill="none" stroke="#C46824" stroke-width="2.5"/>
<rect x="163" y="843.8" width="8" height="8" fill="none" stroke="#C46824" stroke-width="2.5"/>
<rect x="159.9" y="848.8" width="8" height="8" fill="none" stroke="#C46824" stroke-width="2.5"/>
<rect x="155.5" y="861.4" width="8" height="8" fill="none" stroke="#C46824" stroke-width="2.5"/>
<line x1="152.15" y1="835.8" x2="166.55" y2="835.8" stroke="#000" stroke-width="2.6"/>
<line x1="159.35" y1="835.8" x2="159.35" y2="843.1" stroke="#000" stroke-width="2.6"/>
<path d="M191.5 872.4 V849 H218.8 V872.4" fill="none" stroke="#1E6432" stroke-width="2.4"/>
<rect x="195.2" y="822.4" width="8" height="8" fill="none" stroke="#1E6432" stroke-width="2.5"/>
<rect x="207.8" y="822.1" width="8" height="8" fill="none" stroke="#1E6432" stroke-width="2.5"/>
<rect x="195.2" y="840" width="8" height="8" fill="none" stroke="#1E6432" stroke-width="2.5"/>
<rect x="207.1" y="847.6" width="8" height="8" fill="none" stroke="#1E6432" stroke-width="2.5"/>
<rect x="192" y="853.9" width="8" height="8" fill="none" stroke="#1E6432" stroke-width="2.5"/>
<rect x="201.5" y="860.2" width="8" height="8" fill="none" stroke="#1E6432" stroke-width="2.5"/>
<rect x="210.3" y="860.2" width="8" height="8" fill="none" stroke="#1E6432" stroke-width="2.5"/>
<line x1="197.95" y1="841.8" x2="212.35" y2="841.8" stroke="#000" stroke-width="2.6"/>
<line x1="205.15" y1="841.8" x2="205.15" y2="848.8" stroke="#000" stroke-width="2.6"/>
<path d="M237.1 872.4 V846.5 H264.4 V872.4" fill="none" stroke="#2A2C7E" stroke-width="2.4"/>
<rect x="246.8" y="805" width="8" height="8" fill="none" stroke="#2A2C7E" stroke-width="2.5"/>
<rect x="240.5" y="825.3" width="8" height="8" fill="none" stroke="#2A2C7E" stroke-width="2.5"/>
<rect x="253.1" y="831.8" width="8" height="8" fill="none" stroke="#2A2C7E" stroke-width="2.5"/>
<rect x="237.4" y="854.5" width="8" height="8" fill="none" stroke="#2A2C7E" stroke-width="2.5"/>
<rect x="246.8" y="864.6" width="8" height="8" fill="none" stroke="#2A2C7E" stroke-width="2.5"/>
<rect x="256.3" y="862.7" width="8" height="8" fill="none" stroke="#2A2C7E" stroke-width="2.5"/>
<line x1="243.55" y1="835" x2="257.95" y2="835" stroke="#000" stroke-width="2.6"/>
<line x1="250.75" y1="835" x2="250.75" y2="846.3" stroke="#000" stroke-width="2.6"/>
<path d="M327.9 872.4 V784.5 H355.5 V872.4" fill="none" stroke="#9E1C24" stroke-width="2.4"/>
<rect x="344.1" y="673.9" width="8" height="8" fill="#9E1C24"/>
<rect x="331.6" y="685.8" width="8" height="8" fill="#9E1C24"/>
<rect x="328.5" y="714.3" width="8" height="8" fill="#9E1C24"/>
<rect x="338" y="712.8" width="8" height="8" fill="#9E1C24"/>
<rect x="347" y="724.3" width="8" height="8" fill="#9E1C24"/>
<rect x="338" y="726.6" width="8" height="8" fill="#9E1C24"/>
<rect x="331.6" y="728.9" width="8" height="8" fill="#9E1C24"/>
<rect x="344.1" y="740" width="8" height="8" fill="#9E1C24"/>
<rect x="331.6" y="758.1" width="8" height="8" fill="#9E1C24"/>
<rect x="344.1" y="757.8" width="8" height="8" fill="#9E1C24"/>
<rect x="328.5" y="765.6" width="8" height="8" fill="#9E1C24"/>
<rect x="347" y="765.6" width="8" height="8" fill="#9E1C24"/>
<rect x="338" y="772.6" width="8" height="8" fill="#9E1C24"/>
<rect x="344.1" y="800.9" width="8" height="8" fill="#9E1C24"/>
<rect x="331.6" y="806.6" width="8" height="8" fill="#9E1C24"/>
<rect x="347" y="821" width="8" height="8" fill="#9E1C24"/>
<rect x="328.5" y="830.9" width="8" height="8" fill="#9E1C24"/>
<rect x="338" y="833.2" width="8" height="8" fill="#9E1C24"/>
<rect x="338" y="837.2" width="8" height="8" fill="#9E1C24"/>
<rect x="331.6" y="843" width="8" height="8" fill="#9E1C24"/>
<rect x="344.1" y="841.2" width="8" height="8" fill="#9E1C24"/>
<rect x="330.2" y="848.2" width="8" height="8" fill="#9E1C24"/>
<rect x="345.8" y="848.2" width="8" height="8" fill="#9E1C24"/>
<rect x="334.9" y="851.1" width="8" height="8" fill="#9E1C24"/>
<rect x="340.6" y="851.1" width="8" height="8" fill="#9E1C24"/>
<line x1="334.5" y1="771.6" x2="348.9" y2="771.6" stroke="#000" stroke-width="2.6"/>
<line x1="341.7" y1="771.6" x2="341.7" y2="784.3" stroke="#000" stroke-width="2.6"/>
<path d="M373.3 872.4 V780.1 H400.9 V872.4" fill="none" stroke="#C46824" stroke-width="2.4"/>
<rect x="383.3" y="667.9" width="8" height="8" fill="#C46824"/>
<rect x="383.3" y="681.6" width="8" height="8" fill="#C46824"/>
<rect x="383.3" y="718" width="8" height="8" fill="#C46824"/>
<rect x="383.3" y="731" width="8" height="8" fill="#C46824"/>
<rect x="383.3" y="751.8" width="8" height="8" fill="#C46824"/>
<rect x="377" y="756.8" width="8" height="8" fill="#C46824"/>
<rect x="390" y="764.5" width="8" height="8" fill="#C46824"/>
<rect x="390" y="786.4" width="8" height="8" fill="#C46824"/>
<rect x="377" y="790.8" width="8" height="8" fill="#C46824"/>
<rect x="373.5" y="815.3" width="8" height="8" fill="#C46824"/>
<rect x="383.3" y="817" width="8" height="8" fill="#C46824"/>
<rect x="393.1" y="814.7" width="8" height="8" fill="#C46824"/>
<rect x="374.1" y="838.1" width="8" height="8" fill="#C46824"/>
<rect x="383.3" y="847.6" width="8" height="8" fill="#C46824"/>
<rect x="393.1" y="845.3" width="8" height="8" fill="#C46824"/>
<line x1="379.9" y1="764.5" x2="394.3" y2="764.5" stroke="#000" stroke-width="2.6"/>
<line x1="387.1" y1="764.5" x2="387.1" y2="779.9" stroke="#000" stroke-width="2.6"/>
<path d="M419.1 872.4 V838.1 H446.7 V872.4" fill="none" stroke="#1E6432" stroke-width="2.4"/>
<rect x="419.9" y="785" width="8" height="8" fill="#1E6432"/>
<rect x="438.2" y="785.8" width="8" height="8" fill="#1E6432"/>
<rect x="428.9" y="794.3" width="8" height="8" fill="#1E6432"/>
<rect x="438.2" y="808.6" width="8" height="8" fill="#1E6432"/>
<rect x="419.9" y="812.1" width="8" height="8" fill="#1E6432"/>
<rect x="428.9" y="813.5" width="8" height="8" fill="#1E6432"/>
<rect x="435" y="822.8" width="8" height="8" fill="#1E6432"/>
<rect x="416.5" y="828" width="8" height="8" fill="#1E6432"/>
<rect x="422.6" y="839.3" width="8" height="8" fill="#1E6432"/>
<rect x="434.7" y="839.3" width="8" height="8" fill="#1E6432"/>
<rect x="420.5" y="847" width="8" height="8" fill="#1E6432"/>
<rect x="424.6" y="847" width="8" height="8" fill="#1E6432"/>
<rect x="428.8" y="847" width="8" height="8" fill="#1E6432"/>
<rect x="432.9" y="847" width="8" height="8" fill="#1E6432"/>
<rect x="437.6" y="847" width="8" height="8" fill="#1E6432"/>
<rect x="418.4" y="851.2" width="8" height="8" fill="#1E6432"/>
<rect x="422.6" y="851.2" width="8" height="8" fill="#1E6432"/>
<rect x="430.8" y="851.2" width="8" height="8" fill="#1E6432"/>
<rect x="435" y="851.2" width="8" height="8" fill="#1E6432"/>
<rect x="439.1" y="851.2" width="8" height="8" fill="#1E6432"/>
<rect x="422.6" y="855.3" width="8" height="8" fill="#1E6432"/>
<rect x="426.7" y="855.3" width="8" height="8" fill="#1E6432"/>
<rect x="430.8" y="855.3" width="8" height="8" fill="#1E6432"/>
<rect x="435.5" y="855.3" width="8" height="8" fill="#1E6432"/>
<rect x="425.7" y="859" width="8" height="8" fill="#1E6432"/>
<rect x="429.8" y="859" width="8" height="8" fill="#1E6432"/>
<rect x="435" y="859" width="8" height="8" fill="#1E6432"/>
<rect x="429" y="861" width="8" height="8" fill="#1E6432"/>
<line x1="425.7" y1="832" x2="440.1" y2="832" stroke="#000" stroke-width="2.6"/>
<line x1="432.9" y1="832" x2="432.9" y2="837.9" stroke="#000" stroke-width="2.6"/>
<path d="M464.5 872.4 V834.1 H492.3 V872.4" fill="none" stroke="#2A2C7E" stroke-width="2.4"/>
<rect x="484" y="784.3" width="8" height="8" fill="#2A2C7E"/>
<rect x="465.3" y="791.3" width="8" height="8" fill="#2A2C7E"/>
<rect x="474.5" y="793.6" width="8" height="8" fill="#2A2C7E"/>
<rect x="480.9" y="807.4" width="8" height="8" fill="#2A2C7E"/>
<rect x="468.2" y="812.7" width="8" height="8" fill="#2A2C7E"/>
<rect x="465.5" y="837.7" width="8" height="8" fill="#2A2C7E"/>
<rect x="483.9" y="835.9" width="8" height="8" fill="#2A2C7E"/>
<rect x="470.7" y="842.4" width="8" height="8" fill="#2A2C7E"/>
<rect x="478.5" y="841.9" width="8" height="8" fill="#2A2C7E"/>
<rect x="474.3" y="845.5" width="8" height="8" fill="#2A2C7E"/>
<rect x="481.1" y="846.5" width="8" height="8" fill="#2A2C7E"/>
<rect x="468.1" y="852.2" width="8" height="8" fill="#2A2C7E"/>
<rect x="472.3" y="856.4" width="8" height="8" fill="#2A2C7E"/>
<rect x="478.5" y="855.3" width="8" height="8" fill="#2A2C7E"/>
<rect x="470.7" y="859" width="8" height="8" fill="#2A2C7E"/>
<rect x="466.5" y="844" width="8" height="8" fill="#2A2C7E"/>
<rect x="482" y="840" width="8" height="8" fill="#2A2C7E"/>
<line x1="471.2" y1="826.2" x2="485.6" y2="826.2" stroke="#000" stroke-width="2.6"/>
<line x1="478.4" y1="826.2" x2="478.4" y2="833.9" stroke="#000" stroke-width="2.6"/>
<line x1="104" y1="891.6" x2="262.5" y2="891.6" stroke="#000" stroke-width="4.2"/>
<line x1="333.3" y1="891.6" x2="496" y2="891.6" stroke="#000" stroke-width="4.2"/>
<text x="189.2" y="929.2" font-size="22" font-weight="bold" text-anchor="middle" textLength="79.6" lengthAdjust="spacingAndGlyphs">Control</text>
<text x="415.3" y="929.2" font-size="22" font-weight="bold" text-anchor="middle" textLength="79.6" lengthAdjust="spacingAndGlyphs">Ethanol</text>
<line x1="345.5" y1="592" x2="482.3" y2="592" stroke="#000" stroke-width="4.1"/>
<text x="416.1" y="597.7" font-size="26" font-weight="normal" text-anchor="middle" letter-spacing="1.6">**</text>
<line x1="345.5" y1="614.1" x2="432" y2="614.1" stroke="#000" stroke-width="4.1"/>
<text x="388.8" y="619.7" font-size="26" font-weight="normal" text-anchor="middle" letter-spacing="1.6">***</text>
<line x1="389.3" y1="635.9" x2="477" y2="635.9" stroke="#000" stroke-width="4.1"/>
<text x="433.6" y="641.8" font-size="26" font-weight="normal" text-anchor="middle">*</text>
<line x1="389.3" y1="656.4" x2="432" y2="656.4" stroke="#000" stroke-width="4.1"/>
<text x="410.5" y="662.3" font-size="26" font-weight="normal" text-anchor="middle" letter-spacing="1.6">**</text>
<text x="537.9" y="535.4" font-size="34" font-weight="bold" text-anchor="start">d</text>
<text x="836.7" y="565.2" font-size="22" font-weight="bold" text-anchor="middle" font-style="italic" textLength="59.7" lengthAdjust="spacingAndGlyphs">Acta2</text>
<text x="586.2" y="734.6" font-size="22.6" font-weight="bold" text-anchor="middle" textLength="128.2" lengthAdjust="spacingAndGlyphs" transform="rotate(-90 586.2 734.6)">Fold change</text>
<line x1="624.5" y1="872.5" x2="1042.6" y2="872.5" stroke="#000" stroke-width="3"/>
<line x1="632" y1="597.1" x2="632" y2="873.9" stroke="#000" stroke-width="3"/>
<line x1="625" y1="872.5" x2="632" y2="872.5" stroke="#000" stroke-width="2.6"/>
<text x="620.6" y="880.38" font-size="22" font-weight="bold" text-anchor="end">0</text>
<line x1="625" y1="817.7" x2="632" y2="817.7" stroke="#000" stroke-width="2.6"/>
<text x="620.6" y="825.58" font-size="22" font-weight="bold" text-anchor="end">2</text>
<line x1="625" y1="762.9" x2="632" y2="762.9" stroke="#000" stroke-width="2.6"/>
<text x="620.6" y="770.78" font-size="22" font-weight="bold" text-anchor="end">4</text>
<line x1="625" y1="708.1" x2="632" y2="708.1" stroke="#000" stroke-width="2.6"/>
<text x="620.6" y="715.98" font-size="22" font-weight="bold" text-anchor="end">6</text>
<line x1="625" y1="653.3" x2="632" y2="653.3" stroke="#000" stroke-width="2.6"/>
<text x="620.6" y="661.18" font-size="22" font-weight="bold" text-anchor="end">8</text>
<line x1="625" y1="598.5" x2="632" y2="598.5" stroke="#000" stroke-width="2.6"/>
<text x="620.6" y="606.38" font-size="22" font-weight="bold" text-anchor="end">10</text>
<path d="M640.3 872.5 V847.4 H667.5 V872.5" fill="none" stroke="#9E1C24" stroke-width="2.4"/>
<rect x="650.2" y="812.3" width="8" height="8" fill="none" stroke="#9E1C24" stroke-width="2.5"/>
<rect x="650.2" y="825.5" width="8" height="8" fill="none" stroke="#9E1C24" stroke-width="2.5"/>
<rect x="642.9" y="833.5" width="8" height="8" fill="none" stroke="#9E1C24" stroke-width="2.5"/>
<rect x="656.5" y="840" width="8" height="8" fill="none" stroke="#9E1C24" stroke-width="2.5"/>
<rect x="641.4" y="857.9" width="8" height="8" fill="none" stroke="#9E1C24" stroke-width="2.5"/>
<rect x="650.2" y="861.4" width="8" height="8" fill="none" stroke="#9E1C24" stroke-width="2.5"/>
<rect x="659" y="860.6" width="8" height="8" fill="none" stroke="#9E1C24" stroke-width="2.5"/>
<line x1="646.7" y1="838.7" x2="661.1" y2="838.7" stroke="#000" stroke-width="2.6"/>
<line x1="653.9" y1="838.7" x2="653.9" y2="847.2" stroke="#000" stroke-width="2.6"/>
<path d="M685.9 872.5 V845 H712.9 V872.5" fill="none" stroke="#C46824" stroke-width="2.4"/>
<rect x="689.5" y="827.8" width="8" height="8" fill="none" stroke="#C46824" stroke-width="2.5"/>
<rect x="701.9" y="831.6" width="8" height="8" fill="none" stroke="#C46824" stroke-width="2.5"/>
<rect x="690.5" y="833.5" width="8" height="8" fill="none" stroke="#C46824" stroke-width="2.5"/>
<rect x="686.8" y="849.5" width="8" height="8" fill="none" stroke="#C46824" stroke-width="2.5"/>
<rect x="695.8" y="853.3" width="8" height="8" fill="none" stroke="#C46824" stroke-width="2.5"/>
<rect x="705" y="851.4" width="8" height="8" fill="none" stroke="#C46824" stroke-width="2.5"/>
<line x1="692.2" y1="839.6" x2="706.6" y2="839.6" stroke="#000" stroke-width="2.6"/>
<line x1="699.4" y1="839.6" x2="699.4" y2="844.8" stroke="#000" stroke-width="2.6"/>
<path d="M731.4 872.5 V842.5 H758.8 V872.5" fill="none" stroke="#1E6432" stroke-width="2.4"/>
<rect x="741.3" y="800.7" width="8" height="8" fill="none" stroke="#1E6432" stroke-width="2.5"/>
<rect x="741.3" y="830.6" width="8" height="8" fill="none" stroke="#1E6432" stroke-width="2.5"/>
<rect x="732.7" y="840" width="8" height="8" fill="none" stroke="#1E6432" stroke-width="2.5"/>
<rect x="748.5" y="842.5" width="8" height="8" fill="none" stroke="#1E6432" stroke-width="2.5"/>
<rect x="737.1" y="848.2" width="8" height="8" fill="none" stroke="#1E6432" stroke-width="2.5"/>
<rect x="746" y="847.6" width="8" height="8" fill="none" stroke="#1E6432" stroke-width="2.5"/>
<rect x="741.5" y="852" width="8" height="8" fill="none" stroke="#1E6432" stroke-width="2.5"/>
<rect x="734.5" y="844.5" width="8" height="8" fill="none" stroke="#1E6432" stroke-width="2.5"/>
<rect x="750" y="848.5" width="8" height="8" fill="none" stroke="#1E6432" stroke-width="2.5"/>
<line x1="737.9" y1="834.6" x2="752.3" y2="834.6" stroke="#000" stroke-width="2.6"/>
<line x1="745.1" y1="834.6" x2="745.1" y2="842.3" stroke="#000" stroke-width="2.6"/>
<path d="M777.3 872.5 V850.9 H804.4 V872.5" fill="none" stroke="#2A2C7E" stroke-width="2.4"/>
<rect x="781.8" y="832.5" width="8" height="8" fill="none" stroke="#2A2C7E" stroke-width="2.5"/>
<rect x="793.2" y="832.5" width="8" height="8" fill="none" stroke="#2A2C7E" stroke-width="2.5"/>
<rect x="790.7" y="840.7" width="8" height="8" fill="none" stroke="#2A2C7E" stroke-width="2.5"/>
<rect x="780.6" y="866.2" width="8" height="8" fill="none" stroke="#2A2C7E" stroke-width="2.5"/>
<rect x="793.2" y="863.7" width="8" height="8" fill="none" stroke="#2A2C7E" stroke-width="2.5"/>
<line x1="783.65" y1="842.5" x2="798.05" y2="842.5" stroke="#000" stroke-width="2.6"/>
<line x1="790.85" y1="842.5" x2="790.85" y2="850.7" stroke="#000" stroke-width="2.6"/>
<path d="M868.2 872.5 V808 H895.5 V872.5" fill="none" stroke="#9E1C24" stroke-width="2.4"/>
<rect x="878" y="725" width="8" height="8" fill="#9E1C24"/>
<rect x="884.1" y="732.2" width="8" height="8" fill="#9E1C24"/>
<rect x="865.9" y="744.9" width="8" height="8" fill="#9E1C24"/>
<rect x="872" y="756.8" width="8" height="8" fill="#9E1C24"/>
<rect x="884.1" y="762.5" width="8" height="8" fill="#9E1C24"/>
<rect x="884.1" y="776" width="8" height="8" fill="#9E1C24"/>
<rect x="872" y="780.7" width="8" height="8" fill="#9E1C24"/>
<rect x="881.8" y="782.4" width="8" height="8" fill="#9E1C24"/>
<rect x="874.3" y="785.3" width="8" height="8" fill="#9E1C24"/>
<rect x="878" y="788" width="8" height="8" fill="#9E1C24"/>
<rect x="869.1" y="798" width="8" height="8" fill="#9E1C24"/>
<rect x="887" y="798" width="8" height="8" fill="#9E1C24"/>
<rect x="868.5" y="813" width="8" height="8" fill="#9E1C24"/>
<rect x="878" y="819.9" width="8" height="8" fill="#9E1C24"/>
<rect x="887" y="818.7" width="8" height="8" fill="#9E1C24"/>
<rect x="872" y="827.2" width="8" height="8" fill="#9E1C24"/>
<rect x="884.1" y="836.6" width="8" height="8" fill="#9E1C24"/>
<rect x="868.5" y="844.1" width="8" height="8" fill="#9E1C24"/>
<rect x="887.6" y="844.1" width="8" height="8" fill="#9E1C24"/>
<rect x="873.1" y="848.2" width="8" height="8" fill="#9E1C24"/>
<rect x="882.9" y="848.2" width="8" height="8" fill="#9E1C24"/>
<rect x="878" y="851.1" width="8" height="8" fill="#9E1C24"/>
<line x1="874.65" y1="799.4" x2="889.05" y2="799.4" stroke="#000" stroke-width="2.6"/>
<line x1="881.85" y1="799.4" x2="881.85" y2="807.8" stroke="#000" stroke-width="2.6"/>
<path d="M913.5 872.5 V800.9 H941.1 V872.5" fill="none" stroke="#C46824" stroke-width="2.4"/>
<rect x="930" y="673.1" width="8" height="8" fill="#C46824"/>
<rect x="917.6" y="680.8" width="8" height="8" fill="#C46824"/>
<rect x="923.6" y="708.5" width="8" height="8" fill="#C46824"/>
<rect x="930" y="756.2" width="8" height="8" fill="#C46824"/>
<rect x="917.6" y="760.5" width="8" height="8" fill="#C46824"/>
<rect x="917.6" y="797.4" width="8" height="8" fill="#C46824"/>
<rect x="930" y="800.9" width="8" height="8" fill="#C46824"/>
<rect x="930" y="815.9" width="8" height="8" fill="#C46824"/>
<rect x="917.6" y="824.5" width="8" height="8" fill="#C46824"/>
<rect x="911.2" y="844.1" width="8" height="8" fill="#C46824"/>
<rect x="936" y="845.3" width="8" height="8" fill="#C46824"/>
<rect x="917.6" y="854.5" width="8" height="8" fill="#C46824"/>
<rect x="930" y="853.4" width="8" height="8" fill="#C46824"/>
<rect x="919.9" y="859.1" width="8" height="8" fill="#C46824"/>
<rect x="927.9" y="858" width="8" height="8" fill="#C46824"/>
<rect x="923.9" y="860.3" width="8" height="8" fill="#C46824"/>
<rect x="933.7" y="849.9" width="8" height="8" fill="#C46824"/>
<line x1="920.1" y1="782.6" x2="934.5" y2="782.6" stroke="#000" stroke-width="2.6"/>
<line x1="927.3" y1="782.6" x2="927.3" y2="800.7" stroke="#000" stroke-width="2.6"/>
<path d="M959.1 872.5 V842.4 H986.7 V872.5" fill="none" stroke="#1E6432" stroke-width="2.4"/>
<rect x="968.9" y="775.5" width="8" height="8" fill="#1E6432"/>
<rect x="975" y="803.7" width="8" height="8" fill="#1E6432"/>
<rect x="962.8" y="809.7" width="8" height="8" fill="#1E6432"/>
<rect x="960" y="824.6" width="8" height="8" fill="#1E6432"/>
<rect x="969" y="823.6" width="8" height="8" fill="#1E6432"/>
<rect x="978.1" y="824.6" width="8" height="8" fill="#1E6432"/>
<rect x="965.2" y="831.4" width="8" height="8" fill="#1E6432"/>
<rect x="971.4" y="831.4" width="8" height="8" fill="#1E6432"/>
<rect x="969" y="835.5" width="8" height="8" fill="#1E6432"/>
<rect x="978" y="841.2" width="8" height="8" fill="#1E6432"/>
<rect x="958.4" y="846.9" width="8" height="8" fill="#1E6432"/>
<rect x="963" y="846.9" width="8" height="8" fill="#1E6432"/>
<rect x="967.7" y="846.9" width="8" height="8" fill="#1E6432"/>
<rect x="972.4" y="846.9" width="8" height="8" fill="#1E6432"/>
<rect x="980" y="846.9" width="8" height="8" fill="#1E6432"/>
<rect x="958.4" y="851" width="8" height="8" fill="#1E6432"/>
<rect x="963" y="851" width="8" height="8" fill="#1E6432"/>
<rect x="968" y="851" width="8" height="8" fill="#1E6432"/>
<rect x="973" y="851" width="8" height="8" fill="#1E6432"/>
<rect x="978" y="851" width="8" height="8" fill="#1E6432"/>
<rect x="980" y="851" width="8" height="8" fill="#1E6432"/>
<rect x="960.5" y="855.2" width="8" height="8" fill="#1E6432"/>
<rect x="965.2" y="855.2" width="8" height="8" fill="#1E6432"/>
<rect x="969.8" y="855.2" width="8" height="8" fill="#1E6432"/>
<rect x="974.5" y="855.2" width="8" height="8" fill="#1E6432"/>
<rect x="979.1" y="855.2" width="8" height="8" fill="#1E6432"/>
<rect x="963" y="859.3" width="8" height="8" fill="#1E6432"/>
<rect x="969" y="859.3" width="8" height="8" fill="#1E6432"/>
<rect x="975.5" y="859.3" width="8" height="8" fill="#1E6432"/>
<rect x="969" y="862.4" width="8" height="8" fill="#1E6432"/>
<line x1="965.7" y1="836" x2="980.1" y2="836" stroke="#000" stroke-width="2.6"/>
<line x1="972.9" y1="836" x2="972.9" y2="842.2" stroke="#000" stroke-width="2.6"/>
<path d="M1004.5 872.5 V846.4 H1032.5 V872.5" fill="none" stroke="#2A2C7E" stroke-width="2.4"/>
<rect x="1005.5" y="822" width="8" height="8" fill="#2A2C7E"/>
<rect x="1023.9" y="823.3" width="8" height="8" fill="#2A2C7E"/>
<rect x="1014.8" y="825.2" width="8" height="8" fill="#2A2C7E"/>
<rect x="1008.6" y="831.4" width="8" height="8" fill="#2A2C7E"/>
<rect x="1013.3" y="829.3" width="8" height="8" fill="#2A2C7E"/>
<rect x="1020.5" y="836.5" width="8" height="8" fill="#2A2C7E"/>
<rect x="1010.7" y="835" width="8" height="8" fill="#2A2C7E"/>
<rect x="1002.9" y="845.3" width="8" height="8" fill="#2A2C7E"/>
<rect x="1008.1" y="843.3" width="8" height="8" fill="#2A2C7E"/>
<rect x="1022.6" y="845.3" width="8" height="8" fill="#2A2C7E"/>
<rect x="1026.7" y="845.3" width="8" height="8" fill="#2A2C7E"/>
<rect x="1005.5" y="849.5" width="8" height="8" fill="#2A2C7E"/>
<rect x="1010.7" y="851" width="8" height="8" fill="#2A2C7E"/>
<rect x="1021" y="850" width="8" height="8" fill="#2A2C7E"/>
<rect x="1025.2" y="849" width="8" height="8" fill="#2A2C7E"/>
<rect x="1009.7" y="854.1" width="8" height="8" fill="#2A2C7E"/>
<rect x="1014.8" y="855.7" width="8" height="8" fill="#2A2C7E"/>
<rect x="1020" y="854.1" width="8" height="8" fill="#2A2C7E"/>
<rect x="1014.8" y="858.8" width="8" height="8" fill="#2A2C7E"/>
<rect x="1003" y="849" width="8" height="8" fill="#2A2C7E"/>
<rect x="1026" y="853" width="8" height="8" fill="#2A2C7E"/>
<line x1="1011.3" y1="842.1" x2="1025.7" y2="842.1" stroke="#000" stroke-width="2.6"/>
<line x1="1018.5" y1="842.1" x2="1018.5" y2="846.2" stroke="#000" stroke-width="2.6"/>
<line x1="644.2" y1="891.6" x2="802" y2="891.6" stroke="#000" stroke-width="4.2"/>
<line x1="873.8" y1="891.6" x2="1036" y2="891.6" stroke="#000" stroke-width="4.2"/>
<text x="729.4" y="929.2" font-size="22" font-weight="bold" text-anchor="middle" textLength="79.6" lengthAdjust="spacingAndGlyphs">Control</text>
<text x="955.8" y="929.2" font-size="22" font-weight="bold" text-anchor="middle" textLength="79.6" lengthAdjust="spacingAndGlyphs">Ethanol</text>
<line x1="885.8" y1="596.5" x2="1022.8" y2="596.5" stroke="#000" stroke-width="4.1"/>
<text x="956.1" y="602.5" font-size="26" font-weight="normal" text-anchor="middle">*</text>
<line x1="885.8" y1="618.6" x2="972" y2="618.6" stroke="#000" stroke-width="4.1"/>
<text x="928.6" y="624.5" font-size="26" font-weight="normal" text-anchor="middle">*</text>
<line x1="929.7" y1="640.3" x2="1017" y2="640.3" stroke="#000" stroke-width="4.1"/>
<text x="973.8" y="646.2" font-size="26" font-weight="normal" text-anchor="middle">*</text>
<line x1="929.7" y1="660.9" x2="972" y2="660.9" stroke="#000" stroke-width="4.1"/>
<text x="950.6" y="666.8" font-size="26" font-weight="normal" text-anchor="middle">*</text>
<text x="1089.7" y="534.3" font-size="34" font-weight="bold" text-anchor="start">e</text>
<line x1="1198.7" y1="616" x2="1198.7" y2="875" stroke="#000" stroke-width="3.1"/>
<line x1="1191.8" y1="873.7" x2="1584.8" y2="873.7" stroke="#000" stroke-width="2.8"/>
<line x1="1191.8" y1="629.1" x2="1198.7" y2="629.1" stroke="#000" stroke-width="2.6"/>
<text x="1187.8" y="637" font-size="22" font-weight="bold" text-anchor="end">100</text>
<line x1="1191.8" y1="678" x2="1198.7" y2="678" stroke="#000" stroke-width="2.6"/>
<text x="1187.8" y="685.9" font-size="22" font-weight="bold" text-anchor="end">90</text>
<line x1="1191.8" y1="726.9" x2="1198.7" y2="726.9" stroke="#000" stroke-width="2.6"/>
<text x="1187.8" y="734.8" font-size="22" font-weight="bold" text-anchor="end">80</text>
<line x1="1191.8" y1="775.8" x2="1198.7" y2="775.8" stroke="#000" stroke-width="2.6"/>
<text x="1187.8" y="783.7" font-size="22" font-weight="bold" text-anchor="end">70</text>
<line x1="1191.8" y1="824.7" x2="1198.7" y2="824.7" stroke="#000" stroke-width="2.6"/>
<text x="1187.8" y="832.6" font-size="22" font-weight="bold" text-anchor="end">60</text>
<line x1="1191.8" y1="873.6" x2="1198.7" y2="873.6" stroke="#000" stroke-width="2.6"/>
<text x="1187.8" y="881.5" font-size="22" font-weight="bold" text-anchor="end">50</text>
<line x1="1198.7" y1="873.7" x2="1198.7" y2="880.2" stroke="#000" stroke-width="2.6"/>
<text x="1198.7" y="903.9" font-size="22" font-weight="bold" text-anchor="middle">0</text>
<line x1="1275.64" y1="873.7" x2="1275.64" y2="880.2" stroke="#000" stroke-width="2.6"/>
<text x="1275.64" y="903.9" font-size="22" font-weight="bold" text-anchor="middle">2</text>
<line x1="1352.58" y1="873.7" x2="1352.58" y2="880.2" stroke="#000" stroke-width="2.6"/>
<text x="1352.58" y="903.9" font-size="22" font-weight="bold" text-anchor="middle">4</text>
<line x1="1429.52" y1="873.7" x2="1429.52" y2="880.2" stroke="#000" stroke-width="2.6"/>
<text x="1429.52" y="903.9" font-size="22" font-weight="bold" text-anchor="middle">6</text>
<line x1="1506.46" y1="873.7" x2="1506.46" y2="880.2" stroke="#000" stroke-width="2.6"/>
<text x="1506.46" y="903.9" font-size="22" font-weight="bold" text-anchor="middle">8</text>
<line x1="1583.4" y1="873.7" x2="1583.4" y2="880.2" stroke="#000" stroke-width="2.6"/>
<text x="1583.4" y="903.9" font-size="22" font-weight="bold" text-anchor="middle">10</text>
<text x="1391.3" y="927.6" font-size="22" font-weight="bold" text-anchor="middle" textLength="48" lengthAdjust="spacingAndGlyphs">Days</text>
<text x="1146.6" y="743.1" font-size="22.6" font-weight="bold" text-anchor="middle" textLength="203" lengthAdjust="spacingAndGlyphs" transform="rotate(-90 1146.6 743.1)">Percent survival (%)</text>
<path d="M1198.7 629.1 H1583.4 V624.6" fill="none" stroke="#2A2C7E" stroke-width="2.2"/>
<path d="M1429.52 630.1 V669.69 H1544.93 V700.49 H1583.4 V695.99" fill="none" stroke="#9E1C24" stroke-width="2.2"/>
<line x1="1429.52" y1="665.19" x2="1429.52" y2="669.69" stroke="#3a1518" stroke-width="2.2"/>
<line x1="1544.93" y1="695.99" x2="1544.93" y2="700.49" stroke="#3a1518" stroke-width="2.2"/>
<line x1="1583.4" y1="624.6" x2="1583.4" y2="629.1" stroke="#1c1c3a" stroke-width="2.2"/>
<line x1="1583.4" y1="695.99" x2="1583.4" y2="700.49" stroke="#3a1518" stroke-width="2.2"/>
<line x1="1322.6" y1="565.7" x2="1348.9" y2="565.7" stroke="#2A2C7E" stroke-width="2.2"/>
<line x1="1335.7" y1="561.5" x2="1335.7" y2="565.7" stroke="#1c1c3a" stroke-width="2.2"/>
<line x1="1322.6" y1="599.2" x2="1348.9" y2="599.2" stroke="#9E1C24" stroke-width="2.2"/>
<line x1="1335.7" y1="595" x2="1335.7" y2="599.2" stroke="#3a1518" stroke-width="2.2"/>
<text x="1364.5" y="572.1" font-size="20.4" font-weight="bold" text-anchor="start" textLength="215.8" lengthAdjust="spacingAndGlyphs">AH Cytolysin negative</text>
<text x="1364.5" y="606.2" font-size="20.4" font-weight="bold" text-anchor="start" textLength="209" lengthAdjust="spacingAndGlyphs">AH Cytolysin positive</text>
<text x="1211.9" y="801.8" font-size="20.4" font-weight="bold" text-anchor="start" textLength="135" lengthAdjust="spacingAndGlyphs">Log-rank test</text>
<text x="1211.9" y="826.4" font-size="20.4" font-weight="bold" text-anchor="start" textLength="127" lengthAdjust="spacingAndGlyphs">(Mantel-Cox)</text>
<text x="1211.9" y="849.9" font-size="20.4" font-weight="bold"><tspan font-style="italic">P</tspan>&lt;0.05</text>
<text x="2.9" y="1052.9" font-size="34" font-weight="bold" text-anchor="start">f</text>
<ellipse cx="287" cy="1255.4" rx="154" ry="163.5" transform="rotate(-10 287 1255.4)" fill="#8fc4ea" fill-opacity="0.17" stroke="#8fc4ea" stroke-width="1" stroke-opacity="0.75"/>
<ellipse cx="293.8" cy="1255.5" rx="196.2" ry="31.4" transform="rotate(11.6 293.8 1255.5)" fill="#f2f060" fill-opacity="0.28" stroke="#e6e45a" stroke-width="1" stroke-opacity="0.7"/>
<ellipse cx="269.6" cy="1280.9" rx="132" ry="101.1" transform="rotate(-21.5 269.6 1280.9)" fill="#9fdc9f" fill-opacity="0.25" stroke="#9ad09a" stroke-width="1" stroke-opacity="0.7"/>
<ellipse cx="285.4" cy="1240.3" rx="143.3" ry="60.5" transform="rotate(16.6 285.4 1240.3)" fill="#c98fb4" fill-opacity="0.2" stroke="#c48aa8" stroke-width="1" stroke-opacity="0.7"/>
<rect x="262.65" y="1202.15" width="4.7" height="4.7" fill="none" stroke="#7db9df" stroke-width="1.1"/>
<rect x="267.75" y="1202.15" width="4.7" height="4.7" fill="none" stroke="#7db9df" stroke-width="1.1"/>
<rect x="254.65" y="1207.35" width="4.7" height="4.7" fill="none" stroke="#7db9df" stroke-width="1.1"/>
<rect x="226.35" y="1310.15" width="4.7" height="4.7" fill="none" stroke="#7db9df" stroke-width="1.1"/>
<rect x="281.95" y="1322.05" width="4.7" height="4.7" fill="none" stroke="#7db9df" stroke-width="1.1"/>
<rect x="354.95" y="1264.65" width="4.7" height="4.7" fill="none" stroke="#7db9df" stroke-width="1.1"/>
<rect x="266.55" y="1212.55" width="4.7" height="4.7" fill="none" stroke="#c87592" stroke-width="1.1"/>
<rect x="254.85" y="1219.05" width="4.7" height="4.7" fill="none" stroke="#c87592" stroke-width="1.1"/>
<rect x="252.55" y="1249.85" width="4.7" height="4.7" fill="none" stroke="#c87592" stroke-width="1.1"/>
<rect x="258.25" y="1252.35" width="4.7" height="4.7" fill="none" stroke="#c87592" stroke-width="1.1"/>
<rect x="315.45" y="1230.45" width="4.7" height="4.7" fill="none" stroke="#c87592" stroke-width="1.1"/>
<rect x="259.55" y="1230.25" width="4.7" height="4.7" fill="none" stroke="#e3df58" stroke-width="1.1"/>
<rect x="229.25" y="1247.25" width="4.7" height="4.7" fill="none" stroke="#e3df58" stroke-width="1.1"/>
<rect x="235.95" y="1246.85" width="4.7" height="4.7" fill="none" stroke="#e3df58" stroke-width="1.1"/>
<rect x="326.65" y="1268.05" width="4.7" height="4.7" fill="none" stroke="#e3df58" stroke-width="1.1"/>
<rect x="346.75" y="1266.85" width="4.7" height="4.7" fill="none" stroke="#e3df58" stroke-width="1.1"/>
<rect x="351.35" y="1260.95" width="4.7" height="4.7" fill="none" stroke="#e3df58" stroke-width="1.1"/>
<rect x="296.25" y="1215.55" width="4.7" height="4.7" fill="none" stroke="#93cd93" stroke-width="1.1"/>
<rect x="315.85" y="1228.95" width="4.7" height="4.7" fill="none" stroke="#93cd93" stroke-width="1.1"/>
<rect x="225.15" y="1260.75" width="4.7" height="4.7" fill="none" stroke="#93cd93" stroke-width="1.1"/>
<rect x="229.25" y="1264.95" width="4.7" height="4.7" fill="none" stroke="#93cd93" stroke-width="1.1"/>
<rect x="223.35" y="1268.45" width="4.7" height="4.7" fill="none" stroke="#93cd93" stroke-width="1.1"/>
<rect x="223.35" y="1287.55" width="4.7" height="4.7" fill="none" stroke="#93cd93" stroke-width="1.1"/>
<rect x="226.15" y="1294.15" width="4.7" height="4.7" fill="none" stroke="#93cd93" stroke-width="1.1"/>
<rect x="285.95" y="1312.95" width="4.7" height="4.7" fill="none" stroke="#93cd93" stroke-width="1.1"/>
<rect x="276.85" y="1334.45" width="4.7" height="4.7" fill="none" stroke="#93cd93" stroke-width="1.1"/>
<rect x="346.75" y="1262.05" width="4.7" height="4.7" fill="none" stroke="#93cd93" stroke-width="1.1"/>
<rect x="352.65" y="1270.55" width="4.7" height="4.7" fill="none" stroke="#93cd93" stroke-width="1.1"/>
<rect x="350.85" y="1265.65" width="4.7" height="4.7" fill="none" stroke="#93cd93" stroke-width="1.1"/>
<line x1="83.9" y1="1075.9" x2="83.9" y2="1436.4" stroke="#000" stroke-width="2.8"/>
<line x1="82.5" y1="1435.1" x2="504.3" y2="1435.1" stroke="#000" stroke-width="2.8"/>
<line x1="77.4" y1="1160" x2="83.9" y2="1160" stroke="#000" stroke-width="2.6"/>
<text x="73.9" y="1167.5" font-size="21" font-weight="bold" text-anchor="end">0.5</text>
<line x1="77.4" y1="1261.2" x2="83.9" y2="1261.2" stroke="#000" stroke-width="2.6"/>
<text x="73.9" y="1268.7" font-size="21" font-weight="bold" text-anchor="end">0.0</text>
<line x1="77.4" y1="1362.6" x2="83.9" y2="1362.6" stroke="#000" stroke-width="2.6"/>
<text x="73.9" y="1370.1" font-size="21" font-weight="bold" text-anchor="end">-0.5</text>
<line x1="155.7" y1="1435.1" x2="155.7" y2="1442.1" stroke="#000" stroke-width="2.6"/>
<text x="154.7" y="1456.8" font-size="21" font-weight="bold" text-anchor="middle">-0.5</text>
<line x1="280.9" y1="1435.1" x2="280.9" y2="1442.1" stroke="#000" stroke-width="2.6"/>
<text x="280.9" y="1456.8" font-size="21" font-weight="bold" text-anchor="middle">0.0</text>
<line x1="406.4" y1="1435.1" x2="406.4" y2="1442.1" stroke="#000" stroke-width="2.6"/>
<text x="406.4" y="1456.8" font-size="21" font-weight="bold" text-anchor="middle">0.5</text>
<text x="294.2" y="1476.5" font-size="22" font-weight="bold" text-anchor="middle" textLength="135" lengthAdjust="spacingAndGlyphs">PC1 (52.44%)</text>
<text x="36.1" y="1255.1" font-size="22" font-weight="bold" text-anchor="middle" textLength="134.8" lengthAdjust="spacingAndGlyphs" transform="rotate(-90 36.1 1255.1)">PC2 (24.13%)</text>
<rect x="519" y="1079.5" width="43" height="43.1" fill="#f6d8e0" stroke="#d3708d" stroke-width="0.8" stroke-opacity="0.45"/>
<rect x="530.1" y="1090.8" width="20.6" height="20.6" fill="none" stroke="#d3708d" stroke-width="1.7"/>
<text x="575.7" y="1108.8" font-size="20.4" font-weight="bold" text-anchor="start" textLength="235" lengthAdjust="spacingAndGlyphs">AH cytolysin positive #1</text>
<rect x="519" y="1122.6" width="43" height="43.8" fill="#fdf6c0" stroke="#ece055" stroke-width="0.8" stroke-opacity="0.45"/>
<rect x="530.1" y="1133.9" width="20.6" height="20.6" fill="none" stroke="#ece055" stroke-width="1.7"/>
<text x="575.7" y="1152.9" font-size="20.4" font-weight="bold" text-anchor="start" textLength="235" lengthAdjust="spacingAndGlyphs">AH cytolysin positive #2</text>
<rect x="519" y="1166.4" width="43" height="43.1" fill="#e6f3e2" stroke="#95c68d" stroke-width="0.8" stroke-opacity="0.45"/>
<rect x="530.1" y="1177.7" width="20.6" height="20.6" fill="none" stroke="#95c68d" stroke-width="1.7"/>
<text x="575.7" y="1197.4" font-size="20.4" font-weight="bold" text-anchor="start" textLength="241.5" lengthAdjust="spacingAndGlyphs">AH cytolysin negative #3</text>
<rect x="519" y="1209.5" width="43" height="43.4" fill="#e2eef9" stroke="#86badf" stroke-width="0.8" stroke-opacity="0.45"/>
<rect x="530.1" y="1220.8" width="20.6" height="20.6" fill="none" stroke="#86badf" stroke-width="1.7"/>
<text x="575.7" y="1241.4" font-size="20.4" font-weight="bold" text-anchor="start" textLength="241.5" lengthAdjust="spacingAndGlyphs">AH cytolysin negative #4</text>
<line x1="844.5" y1="1092.6" x2="844.5" y2="1236.7" stroke="#000" stroke-width="4.3"/>
<text x="864.3" y="1173.8" font-size="20.4" font-weight="bold" text-anchor="start" textLength="72" lengthAdjust="spacingAndGlyphs">Control</text>
<ellipse cx="1273" cy="1289.6" rx="200.2" ry="57.1" transform="rotate(-17.1 1273 1289.6)" fill="#e3b465" fill-opacity="0.25" stroke="#c9a55c" stroke-width="1" stroke-opacity="0.7"/>
<ellipse cx="1189.3" cy="1228.7" rx="70" ry="117.5" transform="rotate(36.25 1189.3 1228.7)" fill="#e8474f" fill-opacity="0.22" stroke="#d2525a" stroke-width="1" stroke-opacity="0.7"/>
<ellipse cx="1184.4" cy="1273.4" rx="70.6" ry="144" transform="rotate(1.7 1184.4 1273.4)" fill="#57a857" fill-opacity="0.25" stroke="#5b9e5b" stroke-width="1" stroke-opacity="0.7"/>
<ellipse cx="1188.9" cy="1251.2" rx="66.8" ry="161.5" transform="rotate(5.66 1188.9 1251.2)" fill="#4a55b8" fill-opacity="0.24" stroke="#4a5db4" stroke-width="1" stroke-opacity="0.7"/>
<rect x="1212.95" y="1230.45" width="5.5" height="5.5" fill="#b48a52"/>
<rect x="1212.45" y="1291.95" width="5.5" height="5.5" fill="#b48a52"/>
<rect x="1207.85" y="1302.15" width="5.5" height="5.5" fill="#b48a52"/>
<rect x="1199.55" y="1310.75" width="5.5" height="5.5" fill="#b48a52"/>
<rect x="1196.15" y="1323.25" width="5.5" height="5.5" fill="#b48a52"/>
<rect x="1192.75" y="1331.75" width="5.5" height="5.5" fill="#b48a52"/>
<rect x="1193.05" y="1339.75" width="5.5" height="5.5" fill="#b48a52"/>
<rect x="1181.05" y="1188.85" width="5.5" height="5.5" fill="#cf2a41"/>
<rect x="1187.15" y="1191.55" width="5.5" height="5.5" fill="#cf2a41"/>
<rect x="1195.35" y="1188.35" width="5.5" height="5.5" fill="#cf2a41"/>
<rect x="1225.45" y="1182.35" width="5.5" height="5.5" fill="#cf2a41"/>
<rect x="1231.35" y="1180.65" width="5.5" height="5.5" fill="#cf2a41"/>
<rect x="1248.25" y="1187.55" width="5.5" height="5.5" fill="#cf2a41"/>
<rect x="1248.55" y="1197.65" width="5.5" height="5.5" fill="#cf2a41"/>
<rect x="1164.25" y="1203.95" width="5.5" height="5.5" fill="#cf2a41"/>
<rect x="1162.85" y="1207.65" width="5.5" height="5.5" fill="#cf2a41"/>
<rect x="1156.25" y="1210.75" width="5.5" height="5.5" fill="#cf2a41"/>
<rect x="1186.75" y="1203.45" width="5.5" height="5.5" fill="#cf2a41"/>
<rect x="1156.35" y="1217.15" width="5.5" height="5.5" fill="#cf2a41"/>
<rect x="1157.55" y="1223.65" width="5.5" height="5.5" fill="#cf2a41"/>
<rect x="1160.45" y="1230.75" width="5.5" height="5.5" fill="#cf2a41"/>
<rect x="1207.85" y="1221.65" width="5.5" height="5.5" fill="#cf2a41"/>
<rect x="1172.75" y="1247.85" width="5.5" height="5.5" fill="#cf2a41"/>
<rect x="1154.15" y="1261.55" width="5.5" height="5.5" fill="#cf2a41"/>
<rect x="1157.75" y="1261.15" width="5.5" height="5.5" fill="#cf2a41"/>
<rect x="1158.35" y="1267.45" width="5.5" height="5.5" fill="#cf2a41"/>
<rect x="1167.45" y="1273.15" width="5.5" height="5.5" fill="#cf2a41"/>
<rect x="1168.75" y="1299.95" width="5.5" height="5.5" fill="#cf2a41"/>
<rect x="1177.15" y="1322.65" width="5.5" height="5.5" fill="#cf2a41"/>
<rect x="1192.45" y="1188.35" width="5.5" height="5.5" fill="#3345b5"/>
<rect x="1216.35" y="1186.05" width="5.5" height="5.5" fill="#3345b5"/>
<rect x="1223.25" y="1204.45" width="5.5" height="5.5" fill="#3345b5"/>
<rect x="1185.05" y="1206.35" width="5.5" height="5.5" fill="#3345b5"/>
<rect x="1155.25" y="1240.65" width="5.5" height="5.5" fill="#3345b5"/>
<rect x="1158.35" y="1244.45" width="5.5" height="5.5" fill="#3345b5"/>
<rect x="1161.15" y="1254.95" width="5.5" height="5.5" fill="#3345b5"/>
<rect x="1203.65" y="1306.15" width="5.5" height="5.5" fill="#3345b5"/>
<rect x="1190.45" y="1320.05" width="5.5" height="5.5" fill="#3345b5"/>
<rect x="1187.05" y="1335.25" width="5.5" height="5.5" fill="#3345b5"/>
<rect x="1196.45" y="1186.65" width="5.5" height="5.5" fill="#2f7a43"/>
<rect x="1218.05" y="1190.95" width="5.5" height="5.5" fill="#2f7a43"/>
<rect x="1252.45" y="1189.25" width="5.5" height="5.5" fill="#2f7a43"/>
<rect x="1175.95" y="1197.05" width="5.5" height="5.5" fill="#2f7a43"/>
<rect x="1166.65" y="1211.45" width="5.5" height="5.5" fill="#2f7a43"/>
<rect x="1157.75" y="1221.95" width="5.5" height="5.5" fill="#2f7a43"/>
<rect x="1153.45" y="1226.85" width="5.5" height="5.5" fill="#2f7a43"/>
<rect x="1169.15" y="1235.95" width="5.5" height="5.5" fill="#2f7a43"/>
<rect x="1153.15" y="1244.65" width="5.5" height="5.5" fill="#2f7a43"/>
<rect x="1154.85" y="1248.35" width="5.5" height="5.5" fill="#2f7a43"/>
<rect x="1150.95" y="1265.75" width="5.5" height="5.5" fill="#2f7a43"/>
<rect x="1157.75" y="1274.85" width="5.5" height="5.5" fill="#2f7a43"/>
<rect x="1160.05" y="1275.45" width="5.5" height="5.5" fill="#2f7a43"/>
<rect x="1244.85" y="1262.85" width="5.5" height="5.5" fill="#2f7a43"/>
<rect x="1205.95" y="1288.15" width="5.5" height="5.5" fill="#2f7a43"/>
<rect x="1177.35" y="1313.05" width="5.5" height="5.5" fill="#2f7a43"/>
<rect x="1175.95" y="1316.65" width="5.5" height="5.5" fill="#2f7a43"/>
<rect x="1176.75" y="1324.95" width="5.5" height="5.5" fill="#2f7a43"/>
<rect x="1182.45" y="1331.25" width="5.5" height="5.5" fill="#2f7a43"/>
<rect x="1195.85" y="1335.25" width="5.5" height="5.5" fill="#2f7a43"/>
<rect x="1191.95" y="1337.85" width="5.5" height="5.5" fill="#2f7a43"/>
<rect x="1188.15" y="1340.35" width="5.5" height="5.5" fill="#2f7a43"/>
<rect x="1335.8" y="1263.3" width="5.8" height="5.8" fill="#d39a22"/>
<rect x="1333.8" y="1269.2" width="5.8" height="5.8" fill="#d39a22"/>
<rect x="1338.6" y="1269.6" width="5.8" height="5.8" fill="#d39a22"/>
<rect x="1342.1" y="1267.9" width="5.8" height="5.8" fill="#d39a22"/>
<rect x="1338.1" y="1271.9" width="5.8" height="5.8" fill="#d39a22"/>
<rect x="1342.1" y="1271.9" width="5.8" height="5.8" fill="#d39a22"/>
<rect x="1260.85" y="1223.85" width="5.5" height="5.5" fill="#ee2424"/>
<line x1="1063" y1="1074.8" x2="1063" y2="1434.1" stroke="#000" stroke-width="2.8"/>
<line x1="1061.6" y1="1432.8" x2="1483.4" y2="1432.8" stroke="#000" stroke-width="2.8"/>
<line x1="1056.5" y1="1086.3" x2="1063" y2="1086.3" stroke="#000" stroke-width="2.6"/>
<text x="1054.1" y="1093.8" font-size="21" font-weight="bold" text-anchor="end">0.4</text>
<line x1="1056.5" y1="1173.3" x2="1063" y2="1173.3" stroke="#000" stroke-width="2.6"/>
<text x="1054.1" y="1180.8" font-size="21" font-weight="bold" text-anchor="end">0.2</text>
<line x1="1056.5" y1="1259.7" x2="1063" y2="1259.7" stroke="#000" stroke-width="2.6"/>
<text x="1054.1" y="1267.2" font-size="21" font-weight="bold" text-anchor="end">0.0</text>
<line x1="1056.5" y1="1346.6" x2="1063" y2="1346.6" stroke="#000" stroke-width="2.6"/>
<text x="1054.1" y="1354.1" font-size="21" font-weight="bold" text-anchor="end">-0.2</text>
<line x1="1056.5" y1="1432.8" x2="1063" y2="1432.8" stroke="#000" stroke-width="2.6"/>
<text x="1054.1" y="1440.3" font-size="21" font-weight="bold" text-anchor="end">-0.4</text>
<line x1="1112.4" y1="1432.8" x2="1112.4" y2="1439.8" stroke="#000" stroke-width="2.6"/>
<text x="1111.4" y="1456" font-size="21" font-weight="bold" text-anchor="middle">-0.2</text>
<line x1="1205.6" y1="1432.8" x2="1205.6" y2="1439.8" stroke="#000" stroke-width="2.6"/>
<text x="1205.6" y="1456" font-size="21" font-weight="bold" text-anchor="middle">0.0</text>
<line x1="1298.4" y1="1432.8" x2="1298.4" y2="1439.8" stroke="#000" stroke-width="2.6"/>
<text x="1298.4" y="1456" font-size="21" font-weight="bold" text-anchor="middle">0.2</text>
<line x1="1391.8" y1="1432.8" x2="1391.8" y2="1439.8" stroke="#000" stroke-width="2.6"/>
<text x="1391.8" y="1456" font-size="21" font-weight="bold" text-anchor="middle">0.4</text>
<text x="1272.5" y="1475.5" font-size="22" font-weight="bold" text-anchor="middle" textLength="135" lengthAdjust="spacingAndGlyphs">PC1 (65.15%)</text>
<text x="1014.8" y="1255.3" font-size="22" font-weight="bold" text-anchor="middle" textLength="134.8" lengthAdjust="spacingAndGlyphs" transform="rotate(-90 1014.8 1255.3)">PC2 (22.82%)</text>
<rect x="1507.1" y="1073.8" width="43.6" height="43.6" fill="#f9cccc"/>
<line x1="1507.1" y1="1074.2" x2="1550.7" y2="1074.2" stroke="#e0444a" stroke-width="0.9"/>
<rect x="1518.1" y="1085.7" width="21.4" height="20.3" fill="#e8212b"/>
<text x="1563.3" y="1107.1" font-size="20.4" font-weight="bold" text-anchor="start" textLength="234.6" lengthAdjust="spacingAndGlyphs">AH cytolysin positive #1</text>
<rect x="1507.1" y="1117.4" width="43.6" height="43.8" fill="#f7e8cf"/>
<line x1="1507.1" y1="1117.8" x2="1550.7" y2="1117.8" stroke="#c99a55" stroke-width="0.9"/>
<rect x="1518.1" y="1129" width="21.4" height="20.3" fill="#c08a2e"/>
<text x="1563.3" y="1151.9" font-size="20.4" font-weight="bold" text-anchor="start" textLength="234.6" lengthAdjust="spacingAndGlyphs">AH cytolysin positive #2</text>
<rect x="1507.1" y="1161.2" width="43.6" height="43.1" fill="#d0e6d0"/>
<line x1="1507.1" y1="1161.6" x2="1550.7" y2="1161.6" stroke="#4f9a55" stroke-width="0.9"/>
<rect x="1518.1" y="1172.6" width="21.4" height="20.3" fill="#1f7e45"/>
<text x="1565.7" y="1194.8" font-size="20.4" font-weight="bold" text-anchor="start" textLength="241.2" lengthAdjust="spacingAndGlyphs">AH cytolysin negative #3</text>
<rect x="1507.1" y="1204.3" width="43.6" height="43.3" fill="#cbcbe9"/>
<line x1="1507.1" y1="1204.7" x2="1550.7" y2="1204.7" stroke="#4a5db4" stroke-width="0.9"/>
<rect x="1518.1" y="1216.2" width="21.4" height="20.3" fill="#304fa8"/>
<text x="1563.3" y="1239.3" font-size="20.4" font-weight="bold" text-anchor="start" textLength="241.2" lengthAdjust="spacingAndGlyphs">AH cytolysin negative #4</text>
<line x1="1831.3" y1="1091.7" x2="1831.3" y2="1234.5" stroke="#000" stroke-width="4.2"/>
<text x="1851.4" y="1173.1" font-size="20.4" font-weight="bold" text-anchor="start" textLength="73.2" lengthAdjust="spacingAndGlyphs">Ethanol</text>
<text x="2.7" y="1603.5" font-size="34" font-weight="bold" text-anchor="start">g</text>
<text x="146.5" y="1646.3" font-size="21.6" font-weight="bold" textLength="297" lengthAdjust="spacingAndGlyphs">Cytolysin positive <tspan font-style="italic">E. faecalis</tspan></text>
<text x="43.3" y="1812.6" font-size="22.6" font-weight="bold" text-anchor="middle" textLength="217.7" lengthAdjust="spacingAndGlyphs" transform="rotate(-90 43.3 1812.6)">Percent colonies (%)</text>
<rect x="110.1" y="1679.9" width="66.5" height="268.1" fill="#961B20"/>
<rect x="210.3" y="1679.9" width="67.1" height="268.1" fill="#B8622A"/>
<line x1="86.3" y1="1948" x2="496.2" y2="1948" stroke="#000" stroke-width="3"/>
<line x1="93.1" y1="1678.5" x2="93.1" y2="1949.4" stroke="#000" stroke-width="3"/>
<line x1="86.1" y1="1948" x2="93.1" y2="1948" stroke="#000" stroke-width="2.6"/>
<text x="81.8" y="1955.9" font-size="22" font-weight="bold" text-anchor="end">0</text>
<line x1="86.1" y1="1894.38" x2="93.1" y2="1894.38" stroke="#000" stroke-width="2.6"/>
<text x="81.8" y="1902.28" font-size="22" font-weight="bold" text-anchor="end">20</text>
<line x1="86.1" y1="1840.76" x2="93.1" y2="1840.76" stroke="#000" stroke-width="2.6"/>
<text x="81.8" y="1848.66" font-size="22" font-weight="bold" text-anchor="end">40</text>
<line x1="86.1" y1="1787.14" x2="93.1" y2="1787.14" stroke="#000" stroke-width="2.6"/>
<text x="81.8" y="1795.04" font-size="22" font-weight="bold" text-anchor="end">60</text>
<line x1="86.1" y1="1733.52" x2="93.1" y2="1733.52" stroke="#000" stroke-width="2.6"/>
<text x="81.8" y="1741.42" font-size="22" font-weight="bold" text-anchor="end">80</text>
<line x1="86.1" y1="1679.9" x2="93.1" y2="1679.9" stroke="#000" stroke-width="2.6"/>
<text x="81.8" y="1687.8" font-size="22" font-weight="bold" text-anchor="end">100</text>
<text x="357.2" y="1935.9" font-size="22" font-weight="bold" text-anchor="middle" fill="#1E6432">nd</text>
<text x="456.6" y="1935.9" font-size="22" font-weight="bold" text-anchor="middle" fill="#2A2C7E">nd</text>
<line x1="108.2" y1="1957.6" x2="178.5" y2="1957.6" stroke="#000" stroke-width="4.2"/>
<line x1="208.7" y1="1957.6" x2="278.8" y2="1957.6" stroke="#000" stroke-width="4.2"/>
<line x1="321.2" y1="1957.6" x2="391.6" y2="1957.6" stroke="#000" stroke-width="4.2"/>
<line x1="421.7" y1="1957.6" x2="492.1" y2="1957.6" stroke="#000" stroke-width="4.2"/>
<text x="146.5" y="1986.6" font-size="22" font-weight="bold" text-anchor="middle" textLength="72.8" lengthAdjust="spacingAndGlyphs">Patient</text>
<text x="146.5" y="2011.8" font-size="22" font-weight="bold" text-anchor="middle">#1</text>
<text x="245.1" y="1986.6" font-size="22" font-weight="bold" text-anchor="middle" textLength="72.8" lengthAdjust="spacingAndGlyphs">Patient</text>
<text x="244.5" y="2011.8" font-size="22" font-weight="bold" text-anchor="middle">#2</text>
<text x="359.5" y="1986.6" font-size="22" font-weight="bold" text-anchor="middle" textLength="72.8" lengthAdjust="spacingAndGlyphs">Patient</text>
<text x="359.5" y="2011.8" font-size="22" font-weight="bold" text-anchor="middle">#3</text>
<text x="457.8" y="1986.6" font-size="22" font-weight="bold" text-anchor="middle" textLength="72.8" lengthAdjust="spacingAndGlyphs">Patient</text>
<text x="456.7" y="2011.8" font-size="22" font-weight="bold" text-anchor="middle">#4</text>
<line x1="110.3" y1="2017.8" x2="277.9" y2="2017.8" stroke="#000" stroke-width="3.2"/>
<line x1="323.9" y1="2017.8" x2="491.5" y2="2017.8" stroke="#000" stroke-width="3.2"/>
<text x="196.3" y="2044.3" font-size="22" font-weight="bold" text-anchor="middle" textLength="131" lengthAdjust="spacingAndGlyphs">AH cytolysin</text>
<text x="196.3" y="2069" font-size="22" font-weight="bold" text-anchor="middle" textLength="80.5" lengthAdjust="spacingAndGlyphs">positive</text>
<text x="409.4" y="2044.3" font-size="22" font-weight="bold" text-anchor="middle" textLength="131" lengthAdjust="spacingAndGlyphs">AH cytolysin</text>
<text x="409.4" y="2069" font-size="22" font-weight="bold" text-anchor="middle" textLength="86.5" lengthAdjust="spacingAndGlyphs">negative</text>
<text x="548.9" y="1601.5" font-size="34" font-weight="bold" text-anchor="start">h</text>
<text x="842.3" y="1646.3" font-size="22" font-weight="bold" text-anchor="middle" textLength="150" lengthAdjust="spacingAndGlyphs">Serum ethanol</text>
<text x="584.4" y="1811" font-size="22.6" font-weight="bold" text-anchor="middle" textLength="70.2" lengthAdjust="spacingAndGlyphs" transform="rotate(-90 584.4 1811)">(mg/dl)</text>
<line x1="636.4" y1="1944.4" x2="1041.9" y2="1944.4" stroke="#000" stroke-width="3"/>
<line x1="643.4" y1="1677.7" x2="643.4" y2="1945.8" stroke="#000" stroke-width="3"/>
<line x1="636.4" y1="1944.4" x2="643.4" y2="1944.4" stroke="#000" stroke-width="2.6"/>
<text x="632.2" y="1952.3" font-size="22" font-weight="bold" text-anchor="end">0</text>
<line x1="636.4" y1="1891.3" x2="643.4" y2="1891.3" stroke="#000" stroke-width="2.6"/>
<text x="632.2" y="1899.2" font-size="22" font-weight="bold" text-anchor="end">200</text>
<line x1="636.4" y1="1838.2" x2="643.4" y2="1838.2" stroke="#000" stroke-width="2.6"/>
<text x="632.2" y="1846.1" font-size="22" font-weight="bold" text-anchor="end">400</text>
<line x1="636.4" y1="1785.1" x2="643.4" y2="1785.1" stroke="#000" stroke-width="2.6"/>
<text x="632.2" y="1793" font-size="22" font-weight="bold" text-anchor="end">600</text>
<line x1="636.4" y1="1732" x2="643.4" y2="1732" stroke="#000" stroke-width="2.6"/>
<text x="632.2" y="1739.9" font-size="22" font-weight="bold" text-anchor="end">800</text>
<line x1="636.4" y1="1678.9" x2="643.4" y2="1678.9" stroke="#000" stroke-width="2.6"/>
<text x="632.2" y="1686.8" font-size="22" font-weight="bold" text-anchor="end">1,000</text>
<path d="M661.35 1944.4 V1809.95 H725.25 V1944.4" fill="none" stroke="#9E1C24" stroke-width="2.3"/>
<rect x="689.1" y="1724" width="7.8" height="7.8" fill="#9E1C24"/>
<rect x="671.4" y="1746.4" width="7.8" height="7.8" fill="#9E1C24"/>
<rect x="707.3" y="1752.1" width="7.8" height="7.8" fill="#9E1C24"/>
<rect x="683.2" y="1756.1" width="7.8" height="7.8" fill="#9E1C24"/>
<rect x="695.1" y="1756.1" width="7.8" height="7.8" fill="#9E1C24"/>
<rect x="661.9" y="1780" width="7.8" height="7.8" fill="#9E1C24"/>
<rect x="717.1" y="1777.1" width="7.8" height="7.8" fill="#9E1C24"/>
<rect x="706.2" y="1780.3" width="7.8" height="7.8" fill="#9E1C24"/>
<rect x="672.8" y="1785.8" width="7.8" height="7.8" fill="#9E1C24"/>
<rect x="683.6" y="1786.3" width="7.8" height="7.8" fill="#9E1C24"/>
<rect x="694.9" y="1786" width="7.8" height="7.8" fill="#9E1C24"/>
<rect x="661.3" y="1809.1" width="7.8" height="7.8" fill="#9E1C24"/>
<rect x="717.1" y="1815.7" width="7.8" height="7.8" fill="#9E1C24"/>
<rect x="672.8" y="1816.8" width="7.8" height="7.8" fill="#9E1C24"/>
<rect x="706" y="1817.6" width="7.8" height="7.8" fill="#9E1C24"/>
<rect x="683.6" y="1819.5" width="7.8" height="7.8" fill="#9E1C24"/>
<rect x="694.9" y="1819.8" width="7.8" height="7.8" fill="#9E1C24"/>
<rect x="695.1" y="1835.2" width="7.8" height="7.8" fill="#9E1C24"/>
<rect x="683.2" y="1839" width="7.8" height="7.8" fill="#9E1C24"/>
<rect x="671.4" y="1862.2" width="7.8" height="7.8" fill="#9E1C24"/>
<rect x="689.1" y="1859.1" width="7.8" height="7.8" fill="#9E1C24"/>
<rect x="707.3" y="1861.1" width="7.8" height="7.8" fill="#9E1C24"/>
<rect x="695.1" y="1864" width="7.8" height="7.8" fill="#9E1C24"/>
<rect x="683.2" y="1872.2" width="7.8" height="7.8" fill="#9E1C24"/>
<line x1="677" y1="1800.3" x2="709.6" y2="1800.3" stroke="#000" stroke-width="2.6"/>
<line x1="693.3" y1="1800.3" x2="693.3" y2="1809.8" stroke="#000" stroke-width="2.6"/>
<path d="M761.05 1944.4 V1802.75 H824.65 V1944.4" fill="none" stroke="#C46824" stroke-width="2.3"/>
<rect x="765.1" y="1761.6" width="7.8" height="7.8" fill="#C46824"/>
<rect x="813.1" y="1761" width="7.8" height="7.8" fill="#C46824"/>
<rect x="777.1" y="1768.4" width="7.8" height="7.8" fill="#C46824"/>
<rect x="801" y="1767.5" width="7.8" height="7.8" fill="#C46824"/>
<rect x="789" y="1771.1" width="7.8" height="7.8" fill="#C46824"/>
<rect x="794.8" y="1772.4" width="7.8" height="7.8" fill="#C46824"/>
<rect x="777.1" y="1783.9" width="7.8" height="7.8" fill="#C46824"/>
<rect x="782.8" y="1787.9" width="7.8" height="7.8" fill="#C46824"/>
<rect x="794.8" y="1797" width="7.8" height="7.8" fill="#C46824"/>
<rect x="777.1" y="1801" width="7.8" height="7.8" fill="#C46824"/>
<rect x="801" y="1803.2" width="7.8" height="7.8" fill="#C46824"/>
<rect x="788.8" y="1810" width="7.8" height="7.8" fill="#C46824"/>
<rect x="788.8" y="1844.8" width="7.8" height="7.8" fill="#C46824"/>
<rect x="782.8" y="1868.9" width="7.8" height="7.8" fill="#C46824"/>
<rect x="794.8" y="1867" width="7.8" height="7.8" fill="#C46824"/>
<line x1="776.55" y1="1792.4" x2="809.15" y2="1792.4" stroke="#000" stroke-width="2.6"/>
<line x1="792.85" y1="1792.4" x2="792.85" y2="1802.6" stroke="#000" stroke-width="2.6"/>
<path d="M860.15 1944.4 V1793.35 H924.05 V1944.4" fill="none" stroke="#1E6432" stroke-width="2.3"/>
<rect x="888.3" y="1736" width="7.8" height="7.8" fill="#1E6432"/>
<rect x="876.3" y="1743.1" width="7.8" height="7.8" fill="#1E6432"/>
<rect x="900.2" y="1742.8" width="7.8" height="7.8" fill="#1E6432"/>
<rect x="888.3" y="1749.4" width="7.8" height="7.8" fill="#1E6432"/>
<rect x="870.3" y="1768.1" width="7.8" height="7.8" fill="#1E6432"/>
<rect x="906.2" y="1766" width="7.8" height="7.8" fill="#1E6432"/>
<rect x="894.3" y="1770" width="7.8" height="7.8" fill="#1E6432"/>
<rect x="882.3" y="1774.9" width="7.8" height="7.8" fill="#1E6432"/>
<rect x="900.2" y="1779.3" width="7.8" height="7.8" fill="#1E6432"/>
<rect x="876.3" y="1785.2" width="7.8" height="7.8" fill="#1E6432"/>
<rect x="888.3" y="1785.8" width="7.8" height="7.8" fill="#1E6432"/>
<rect x="906.2" y="1798.3" width="7.8" height="7.8" fill="#1E6432"/>
<rect x="864.4" y="1802.3" width="7.8" height="7.8" fill="#1E6432"/>
<rect x="894.3" y="1804.3" width="7.8" height="7.8" fill="#1E6432"/>
<rect x="876.3" y="1808.1" width="7.8" height="7.8" fill="#1E6432"/>
<rect x="870.3" y="1812.4" width="7.8" height="7.8" fill="#1E6432"/>
<rect x="906.2" y="1812.9" width="7.8" height="7.8" fill="#1E6432"/>
<rect x="882.3" y="1816.2" width="7.8" height="7.8" fill="#1E6432"/>
<rect x="894.3" y="1821.9" width="7.8" height="7.8" fill="#1E6432"/>
<rect x="894.3" y="1836" width="7.8" height="7.8" fill="#1E6432"/>
<rect x="882.3" y="1840.9" width="7.8" height="7.8" fill="#1E6432"/>
<line x1="875.8" y1="1785.7" x2="908.4" y2="1785.7" stroke="#000" stroke-width="2.6"/>
<line x1="892.1" y1="1785.7" x2="892.1" y2="1793.2" stroke="#000" stroke-width="2.6"/>
<path d="M959.65 1944.4 V1786.25 H1023.65 V1944.4" fill="none" stroke="#2A2C7E" stroke-width="2.3"/>
<rect x="987.9" y="1741" width="7.8" height="7.8" fill="#2A2C7E"/>
<rect x="981.8" y="1749.9" width="7.8" height="7.8" fill="#2A2C7E"/>
<rect x="993.9" y="1753.4" width="7.8" height="7.8" fill="#2A2C7E"/>
<rect x="964" y="1764.3" width="7.8" height="7.8" fill="#2A2C7E"/>
<rect x="1011.9" y="1764.3" width="7.8" height="7.8" fill="#2A2C7E"/>
<rect x="976" y="1765.7" width="7.8" height="7.8" fill="#2A2C7E"/>
<rect x="999.9" y="1768.4" width="7.8" height="7.8" fill="#2A2C7E"/>
<rect x="987.9" y="1775.4" width="7.8" height="7.8" fill="#2A2C7E"/>
<rect x="999.9" y="1783.4" width="7.8" height="7.8" fill="#2A2C7E"/>
<rect x="976" y="1790.7" width="7.8" height="7.8" fill="#2A2C7E"/>
<rect x="987.9" y="1792.8" width="7.8" height="7.8" fill="#2A2C7E"/>
<rect x="987.9" y="1811" width="7.8" height="7.8" fill="#2A2C7E"/>
<rect x="987.9" y="1829" width="7.8" height="7.8" fill="#2A2C7E"/>
<rect x="987.9" y="1847.2" width="7.8" height="7.8" fill="#2A2C7E"/>
<line x1="975.35" y1="1777" x2="1007.95" y2="1777" stroke="#000" stroke-width="2.6"/>
<line x1="991.65" y1="1777" x2="991.65" y2="1786.1" stroke="#000" stroke-width="2.6"/>
<line x1="658.3" y1="1962.5" x2="1026.9" y2="1962.5" stroke="#000" stroke-width="4.2"/>
<text x="846.1" y="1998.1" font-size="22" font-weight="bold" text-anchor="middle" textLength="79.6" lengthAdjust="spacingAndGlyphs">Ethanol</text>
<text x="1089.4" y="1601.3" font-size="34" font-weight="bold" text-anchor="start">i</text>
<text x="1387.1" y="1644.9" font-size="22" font-weight="bold" text-anchor="middle" font-style="italic" textLength="51.2" lengthAdjust="spacingAndGlyphs">Adh1</text>
<text x="1131.2" y="1810.7" font-size="22.6" font-weight="bold" text-anchor="middle" textLength="126" lengthAdjust="spacingAndGlyphs" transform="rotate(-90 1131.2 1810.7)">Fold change</text>
<line x1="1178.6" y1="1945.8" x2="1588.8" y2="1945.8" stroke="#000" stroke-width="3"/>
<line x1="1186.5" y1="1676.4" x2="1186.5" y2="1947.2" stroke="#000" stroke-width="3"/>
<line x1="1179.3" y1="1945.8" x2="1186.5" y2="1945.8" stroke="#000" stroke-width="2.6"/>
<text x="1175.2" y="1953.7" font-size="22" font-weight="bold" text-anchor="end">0.0</text>
<line x1="1179.3" y1="1892.2" x2="1186.5" y2="1892.2" stroke="#000" stroke-width="2.6"/>
<text x="1175.2" y="1900.1" font-size="22" font-weight="bold" text-anchor="end">0.5</text>
<line x1="1179.3" y1="1838.6" x2="1186.5" y2="1838.6" stroke="#000" stroke-width="2.6"/>
<text x="1175.2" y="1846.5" font-size="22" font-weight="bold" text-anchor="end">1.0</text>
<line x1="1179.3" y1="1785" x2="1186.5" y2="1785" stroke="#000" stroke-width="2.6"/>
<text x="1175.2" y="1792.9" font-size="22" font-weight="bold" text-anchor="end">1.5</text>
<line x1="1179.3" y1="1731.4" x2="1186.5" y2="1731.4" stroke="#000" stroke-width="2.6"/>
<text x="1175.2" y="1739.3" font-size="22" font-weight="bold" text-anchor="end">2.0</text>
<line x1="1179.3" y1="1677.8" x2="1186.5" y2="1677.8" stroke="#000" stroke-width="2.6"/>
<text x="1175.2" y="1685.7" font-size="22" font-weight="bold" text-anchor="end">2.5</text>
<path d="M1194.9 1945.8 V1840 H1221.6 V1945.8" fill="none" stroke="#9E1C24" stroke-width="2.4"/>
<rect x="1204.45" y="1746.45" width="7.9" height="7.9" fill="none" stroke="#9E1C24" stroke-width="2.4"/>
<rect x="1198.65" y="1821.45" width="7.9" height="7.9" fill="none" stroke="#9E1C24" stroke-width="2.4"/>
<rect x="1210.65" y="1823.15" width="7.9" height="7.9" fill="none" stroke="#9E1C24" stroke-width="2.4"/>
<rect x="1210.05" y="1859.55" width="7.9" height="7.9" fill="none" stroke="#9E1C24" stroke-width="2.4"/>
<rect x="1198.65" y="1864.45" width="7.9" height="7.9" fill="none" stroke="#9E1C24" stroke-width="2.4"/>
<rect x="1209.55" y="1866.05" width="7.9" height="7.9" fill="none" stroke="#9E1C24" stroke-width="2.4"/>
<rect x="1200.85" y="1867.65" width="7.9" height="7.9" fill="none" stroke="#9E1C24" stroke-width="2.4"/>
<line x1="1201.05" y1="1822.5" x2="1215.45" y2="1822.5" stroke="#000" stroke-width="2.6"/>
<line x1="1208.25" y1="1822.5" x2="1208.25" y2="1839.8" stroke="#000" stroke-width="2.6"/>
<path d="M1239.5 1945.8 V1850.4 H1266.2 V1945.8" fill="none" stroke="#C46824" stroke-width="2.4"/>
<rect x="1249.25" y="1753.55" width="7.9" height="7.9" fill="none" stroke="#C46824" stroke-width="2.4"/>
<rect x="1249.25" y="1791.35" width="7.9" height="7.9" fill="none" stroke="#C46824" stroke-width="2.4"/>
<rect x="1249.25" y="1849.95" width="7.9" height="7.9" fill="none" stroke="#C46824" stroke-width="2.4"/>
<rect x="1243.05" y="1868.75" width="7.9" height="7.9" fill="none" stroke="#C46824" stroke-width="2.4"/>
<rect x="1261.15" y="1876.35" width="7.9" height="7.9" fill="none" stroke="#C46824" stroke-width="2.4"/>
<rect x="1255.15" y="1886.15" width="7.9" height="7.9" fill="none" stroke="#C46824" stroke-width="2.4"/>
<rect x="1243.05" y="1891.25" width="7.9" height="7.9" fill="none" stroke="#C46824" stroke-width="2.4"/>
<line x1="1245.65" y1="1829.5" x2="1260.05" y2="1829.5" stroke="#000" stroke-width="2.6"/>
<line x1="1252.85" y1="1829.5" x2="1252.85" y2="1850.2" stroke="#000" stroke-width="2.6"/>
<path d="M1284.3 1945.8 V1838.7 H1311 V1945.8" fill="none" stroke="#1E6432" stroke-width="2.4"/>
<rect x="1293.55" y="1795.75" width="7.9" height="7.9" fill="none" stroke="#1E6432" stroke-width="2.4"/>
<rect x="1284.55" y="1814.65" width="7.9" height="7.9" fill="none" stroke="#1E6432" stroke-width="2.4"/>
<rect x="1302.45" y="1816.05" width="7.9" height="7.9" fill="none" stroke="#1E6432" stroke-width="2.4"/>
<rect x="1293.55" y="1818.75" width="7.9" height="7.9" fill="none" stroke="#1E6432" stroke-width="2.4"/>
<rect x="1293.55" y="1848.85" width="7.9" height="7.9" fill="none" stroke="#1E6432" stroke-width="2.4"/>
<rect x="1299.75" y="1866.55" width="7.9" height="7.9" fill="none" stroke="#1E6432" stroke-width="2.4"/>
<rect x="1287.55" y="1875.25" width="7.9" height="7.9" fill="none" stroke="#1E6432" stroke-width="2.4"/>
<line x1="1290.45" y1="1826.5" x2="1304.85" y2="1826.5" stroke="#000" stroke-width="2.6"/>
<line x1="1297.65" y1="1826.5" x2="1297.65" y2="1838.5" stroke="#000" stroke-width="2.6"/>
<path d="M1329 1945.8 V1842.5 H1355.7 V1945.8" fill="none" stroke="#2A2C7E" stroke-width="2.4"/>
<rect x="1338.35" y="1792.15" width="7.9" height="7.9" fill="none" stroke="#2A2C7E" stroke-width="2.4"/>
<rect x="1338.35" y="1811.95" width="7.9" height="7.9" fill="none" stroke="#2A2C7E" stroke-width="2.4"/>
<rect x="1332.35" y="1852.45" width="7.9" height="7.9" fill="none" stroke="#2A2C7E" stroke-width="2.4"/>
<rect x="1344.35" y="1851.95" width="7.9" height="7.9" fill="none" stroke="#2A2C7E" stroke-width="2.4"/>
<rect x="1338.35" y="1854.65" width="7.9" height="7.9" fill="none" stroke="#2A2C7E" stroke-width="2.4"/>
<rect x="1333.95" y="1858.45" width="7.9" height="7.9" fill="none" stroke="#2A2C7E" stroke-width="2.4"/>
<rect x="1342.65" y="1857.85" width="7.9" height="7.9" fill="none" stroke="#2A2C7E" stroke-width="2.4"/>
<line x1="1335.15" y1="1829.8" x2="1349.55" y2="1829.8" stroke="#000" stroke-width="2.6"/>
<line x1="1342.35" y1="1829.8" x2="1342.35" y2="1842.3" stroke="#000" stroke-width="2.6"/>
<path d="M1417.5 1945.8 V1825.5 H1444.9 V1945.8" fill="none" stroke="#9E1C24" stroke-width="2.4"/>
<rect x="1433.75" y="1715.95" width="7.9" height="7.9" fill="#9E1C24"/>
<rect x="1421.35" y="1723.25" width="7.9" height="7.9" fill="#9E1C24"/>
<rect x="1421.35" y="1742.85" width="7.9" height="7.9" fill="#9E1C24"/>
<rect x="1433.75" y="1744.95" width="7.9" height="7.9" fill="#9E1C24"/>
<rect x="1424.45" y="1747.95" width="7.9" height="7.9" fill="#9E1C24"/>
<rect x="1431.05" y="1752.75" width="7.9" height="7.9" fill="#9E1C24"/>
<rect x="1427.45" y="1779.95" width="7.9" height="7.9" fill="#9E1C24"/>
<rect x="1421.35" y="1783.55" width="7.9" height="7.9" fill="#9E1C24"/>
<rect x="1433.75" y="1790.75" width="7.9" height="7.9" fill="#9E1C24"/>
<rect x="1424.05" y="1792.65" width="7.9" height="7.9" fill="#9E1C24"/>
<rect x="1431.05" y="1794.45" width="7.9" height="7.9" fill="#9E1C24"/>
<rect x="1421.35" y="1824.55" width="7.9" height="7.9" fill="#9E1C24"/>
<rect x="1433.75" y="1822.15" width="7.9" height="7.9" fill="#9E1C24"/>
<rect x="1421.35" y="1839.05" width="7.9" height="7.9" fill="#9E1C24"/>
<rect x="1433.75" y="1839.45" width="7.9" height="7.9" fill="#9E1C24"/>
<rect x="1421.35" y="1874.45" width="7.9" height="7.9" fill="#9E1C24"/>
<rect x="1433.75" y="1874.45" width="7.9" height="7.9" fill="#9E1C24"/>
<rect x="1437.65" y="1877.75" width="7.9" height="7.9" fill="#9E1C24"/>
<rect x="1417.75" y="1886.15" width="7.9" height="7.9" fill="#9E1C24"/>
<rect x="1427.65" y="1888.95" width="7.9" height="7.9" fill="#9E1C24"/>
<rect x="1421.35" y="1893.95" width="7.9" height="7.9" fill="#9E1C24"/>
<rect x="1433.75" y="1892.75" width="7.9" height="7.9" fill="#9E1C24"/>
<rect x="1424.05" y="1904.85" width="7.9" height="7.9" fill="#9E1C24"/>
<rect x="1431.65" y="1904.85" width="7.9" height="7.9" fill="#9E1C24"/>
<line x1="1424" y1="1811" x2="1438.4" y2="1811" stroke="#000" stroke-width="2.6"/>
<line x1="1431.2" y1="1811" x2="1431.2" y2="1825.3" stroke="#000" stroke-width="2.6"/>
<path d="M1462.2 1945.8 V1844.4 H1489.6 V1945.8" fill="none" stroke="#C46824" stroke-width="2.4"/>
<rect x="1463.05" y="1795.25" width="7.9" height="7.9" fill="#C46824"/>
<rect x="1481.15" y="1801.25" width="7.9" height="7.9" fill="#C46824"/>
<rect x="1472.05" y="1804.95" width="7.9" height="7.9" fill="#C46824"/>
<rect x="1472.05" y="1822.45" width="7.9" height="7.9" fill="#C46824"/>
<rect x="1463.05" y="1836.65" width="7.9" height="7.9" fill="#C46824"/>
<rect x="1481.15" y="1838.45" width="7.9" height="7.9" fill="#C46824"/>
<rect x="1466.05" y="1842.75" width="7.9" height="7.9" fill="#C46824"/>
<rect x="1476.95" y="1844.55" width="7.9" height="7.9" fill="#C46824"/>
<rect x="1470.85" y="1846.35" width="7.9" height="7.9" fill="#C46824"/>
<rect x="1463.05" y="1840.85" width="7.9" height="7.9" fill="#C46824"/>
<rect x="1480.05" y="1842.55" width="7.9" height="7.9" fill="#C46824"/>
<rect x="1484.15" y="1857.15" width="7.9" height="7.9" fill="#C46824"/>
<rect x="1466.05" y="1860.85" width="7.9" height="7.9" fill="#C46824"/>
<rect x="1478.15" y="1859.55" width="7.9" height="7.9" fill="#C46824"/>
<rect x="1475.75" y="1868.65" width="7.9" height="7.9" fill="#C46824"/>
<rect x="1468.45" y="1870.75" width="7.9" height="7.9" fill="#C46824"/>
<line x1="1468.7" y1="1837" x2="1483.1" y2="1837" stroke="#000" stroke-width="2.6"/>
<line x1="1475.9" y1="1837" x2="1475.9" y2="1844.2" stroke="#000" stroke-width="2.6"/>
<path d="M1507.1 1945.8 V1850.6 H1534 V1945.8" fill="none" stroke="#1E6432" stroke-width="2.4"/>
<rect x="1516.75" y="1733.75" width="7.9" height="7.9" fill="#1E6432"/>
<rect x="1522.75" y="1772.65" width="7.9" height="7.9" fill="#1E6432"/>
<rect x="1504.65" y="1774.75" width="7.9" height="7.9" fill="#1E6432"/>
<rect x="1510.75" y="1781.95" width="7.9" height="7.9" fill="#1E6432"/>
<rect x="1522.75" y="1790.75" width="7.9" height="7.9" fill="#1E6432"/>
<rect x="1516.75" y="1810.15" width="7.9" height="7.9" fill="#1E6432"/>
<rect x="1510.75" y="1823.95" width="7.9" height="7.9" fill="#1E6432"/>
<rect x="1522.75" y="1824.55" width="7.9" height="7.9" fill="#1E6432"/>
<rect x="1510.75" y="1849.95" width="7.9" height="7.9" fill="#1E6432"/>
<rect x="1522.75" y="1847.55" width="7.9" height="7.9" fill="#1E6432"/>
<rect x="1516.75" y="1851.75" width="7.9" height="7.9" fill="#1E6432"/>
<rect x="1519.15" y="1845.75" width="7.9" height="7.9" fill="#1E6432"/>
<rect x="1513.15" y="1852.95" width="7.9" height="7.9" fill="#1E6432"/>
<rect x="1526.45" y="1880.15" width="7.9" height="7.9" fill="#1E6432"/>
<rect x="1506.45" y="1886.15" width="7.9" height="7.9" fill="#1E6432"/>
<rect x="1523.95" y="1884.35" width="7.9" height="7.9" fill="#1E6432"/>
<rect x="1511.95" y="1890.35" width="7.9" height="7.9" fill="#1E6432"/>
<rect x="1521.55" y="1890.35" width="7.9" height="7.9" fill="#1E6432"/>
<rect x="1516.75" y="1895.25" width="7.9" height="7.9" fill="#1E6432"/>
<rect x="1510.75" y="1900.05" width="7.9" height="7.9" fill="#1E6432"/>
<rect x="1522.75" y="1898.85" width="7.9" height="7.9" fill="#1E6432"/>
<rect x="1515.55" y="1903.65" width="7.9" height="7.9" fill="#1E6432"/>
<rect x="1512.55" y="1907.85" width="7.9" height="7.9" fill="#1E6432"/>
<line x1="1513.35" y1="1837.6" x2="1527.75" y2="1837.6" stroke="#000" stroke-width="2.6"/>
<line x1="1520.55" y1="1837.6" x2="1520.55" y2="1850.4" stroke="#000" stroke-width="2.6"/>
<path d="M1551.5 1945.8 V1842.5 H1578.9 V1945.8" fill="none" stroke="#2A2C7E" stroke-width="2.4"/>
<rect x="1561.45" y="1739.15" width="7.9" height="7.9" fill="#2A2C7E"/>
<rect x="1555.35" y="1757.65" width="7.9" height="7.9" fill="#2A2C7E"/>
<rect x="1567.45" y="1765.85" width="7.9" height="7.9" fill="#2A2C7E"/>
<rect x="1561.45" y="1778.15" width="7.9" height="7.9" fill="#2A2C7E"/>
<rect x="1561.45" y="1834.85" width="7.9" height="7.9" fill="#2A2C7E"/>
<rect x="1567.45" y="1844.25" width="7.9" height="7.9" fill="#2A2C7E"/>
<rect x="1549.35" y="1854.55" width="7.9" height="7.9" fill="#2A2C7E"/>
<rect x="1555.35" y="1867.25" width="7.9" height="7.9" fill="#2A2C7E"/>
<rect x="1567.45" y="1867.25" width="7.9" height="7.9" fill="#2A2C7E"/>
<rect x="1558.35" y="1874.05" width="7.9" height="7.9" fill="#2A2C7E"/>
<rect x="1564.45" y="1875.25" width="7.9" height="7.9" fill="#2A2C7E"/>
<rect x="1551.75" y="1886.55" width="7.9" height="7.9" fill="#2A2C7E"/>
<rect x="1571.05" y="1886.55" width="7.9" height="7.9" fill="#2A2C7E"/>
<rect x="1561.45" y="1889.75" width="7.9" height="7.9" fill="#2A2C7E"/>
<line x1="1558" y1="1827" x2="1572.4" y2="1827" stroke="#000" stroke-width="2.6"/>
<line x1="1565.2" y1="1827" x2="1565.2" y2="1842.3" stroke="#000" stroke-width="2.6"/>
<line x1="1198.3" y1="1964.4" x2="1353.3" y2="1964.4" stroke="#000" stroke-width="4.2"/>
<line x1="1423.1" y1="1964.4" x2="1581.9" y2="1964.4" stroke="#000" stroke-width="4.2"/>
<text x="1281.8" y="2000.9" font-size="22" font-weight="bold" text-anchor="middle" textLength="79.6" lengthAdjust="spacingAndGlyphs">Control</text>
<text x="1503.1" y="2000.9" font-size="22" font-weight="bold" text-anchor="middle" textLength="79.6" lengthAdjust="spacingAndGlyphs">Ethanol</text>
<text x="1907.5" y="1642.7" font-size="22" font-weight="bold" text-anchor="middle" font-style="italic" textLength="72.5" lengthAdjust="spacingAndGlyphs">Cyp2e1</text>
<text x="1651.2" y="1810.7" font-size="22.6" font-weight="bold" text-anchor="middle" textLength="126" lengthAdjust="spacingAndGlyphs" transform="rotate(-90 1651.2 1810.7)">Fold change</text>
<line x1="1698.6" y1="1944" x2="2108.9" y2="1944" stroke="#000" stroke-width="3"/>
<line x1="1706.5" y1="1674.48" x2="1706.5" y2="1945.4" stroke="#000" stroke-width="3"/>
<line x1="1699.3" y1="1944" x2="1706.5" y2="1944" stroke="#000" stroke-width="2.6"/>
<text x="1695.2" y="1951.9" font-size="22" font-weight="bold" text-anchor="end">0.0</text>
<line x1="1699.3" y1="1876.97" x2="1706.5" y2="1876.97" stroke="#000" stroke-width="2.6"/>
<text x="1695.2" y="1884.87" font-size="22" font-weight="bold" text-anchor="end">0.5</text>
<line x1="1699.3" y1="1809.94" x2="1706.5" y2="1809.94" stroke="#000" stroke-width="2.6"/>
<text x="1695.2" y="1817.84" font-size="22" font-weight="bold" text-anchor="end">1.0</text>
<line x1="1699.3" y1="1742.91" x2="1706.5" y2="1742.91" stroke="#000" stroke-width="2.6"/>
<text x="1695.2" y="1750.81" font-size="22" font-weight="bold" text-anchor="end">1.5</text>
<line x1="1699.3" y1="1675.88" x2="1706.5" y2="1675.88" stroke="#000" stroke-width="2.6"/>
<text x="1695.2" y="1683.78" font-size="22" font-weight="bold" text-anchor="end">2.0</text>
<path d="M1714.9 1944 V1811.2 H1741.8 V1944" fill="none" stroke="#9E1C24" stroke-width="2.4"/>
<rect x="1724.65" y="1712.65" width="7.9" height="7.9" fill="none" stroke="#9E1C24" stroke-width="2.4"/>
<rect x="1718.65" y="1790.35" width="7.9" height="7.9" fill="none" stroke="#9E1C24" stroke-width="2.4"/>
<rect x="1730.65" y="1793.15" width="7.9" height="7.9" fill="none" stroke="#9E1C24" stroke-width="2.4"/>
<rect x="1724.65" y="1812.15" width="7.9" height="7.9" fill="none" stroke="#9E1C24" stroke-width="2.4"/>
<rect x="1724.65" y="1824.65" width="7.9" height="7.9" fill="none" stroke="#9E1C24" stroke-width="2.4"/>
<rect x="1730.65" y="1852.35" width="7.9" height="7.9" fill="none" stroke="#9E1C24" stroke-width="2.4"/>
<rect x="1718.65" y="1859.95" width="7.9" height="7.9" fill="none" stroke="#9E1C24" stroke-width="2.4"/>
<line x1="1721.15" y1="1791.8" x2="1735.55" y2="1791.8" stroke="#000" stroke-width="2.6"/>
<line x1="1728.35" y1="1791.8" x2="1728.35" y2="1811" stroke="#000" stroke-width="2.6"/>
<path d="M1759.5 1944 V1794.4 H1786.3 V1944" fill="none" stroke="#C46824" stroke-width="2.4"/>
<rect x="1769.25" y="1731.75" width="7.9" height="7.9" fill="none" stroke="#C46824" stroke-width="2.4"/>
<rect x="1769.25" y="1765.15" width="7.9" height="7.9" fill="none" stroke="#C46824" stroke-width="2.4"/>
<rect x="1763.25" y="1784.45" width="7.9" height="7.9" fill="none" stroke="#C46824" stroke-width="2.4"/>
<rect x="1775.15" y="1781.45" width="7.9" height="7.9" fill="none" stroke="#C46824" stroke-width="2.4"/>
<rect x="1763.25" y="1807.05" width="7.9" height="7.9" fill="none" stroke="#C46824" stroke-width="2.4"/>
<rect x="1775.15" y="1818.15" width="7.9" height="7.9" fill="none" stroke="#C46824" stroke-width="2.4"/>
<rect x="1769.25" y="1835.55" width="7.9" height="7.9" fill="none" stroke="#C46824" stroke-width="2.4"/>
<line x1="1765.7" y1="1780" x2="1780.1" y2="1780" stroke="#000" stroke-width="2.6"/>
<line x1="1772.9" y1="1780" x2="1772.9" y2="1794.2" stroke="#000" stroke-width="2.6"/>
<path d="M1804.3 1944 V1805.9 H1831.1 V1944" fill="none" stroke="#1E6432" stroke-width="2.4"/>
<rect x="1813.75" y="1747.65" width="7.9" height="7.9" fill="none" stroke="#1E6432" stroke-width="2.4"/>
<rect x="1813.75" y="1776.25" width="7.9" height="7.9" fill="none" stroke="#1E6432" stroke-width="2.4"/>
<rect x="1804.55" y="1801.85" width="7.9" height="7.9" fill="none" stroke="#1E6432" stroke-width="2.4"/>
<rect x="1813.75" y="1808.85" width="7.9" height="7.9" fill="none" stroke="#1E6432" stroke-width="2.4"/>
<rect x="1823.55" y="1808.35" width="7.9" height="7.9" fill="none" stroke="#1E6432" stroke-width="2.4"/>
<rect x="1813.75" y="1823.55" width="7.9" height="7.9" fill="none" stroke="#1E6432" stroke-width="2.4"/>
<rect x="1813.75" y="1836.05" width="7.9" height="7.9" fill="none" stroke="#1E6432" stroke-width="2.4"/>
<line x1="1810.5" y1="1793.3" x2="1824.9" y2="1793.3" stroke="#000" stroke-width="2.6"/>
<line x1="1817.7" y1="1793.3" x2="1817.7" y2="1805.7" stroke="#000" stroke-width="2.6"/>
<path d="M1849 1944 V1809.6 H1875.7 V1944" fill="none" stroke="#2A2C7E" stroke-width="2.4"/>
<rect x="1849.65" y="1778.45" width="7.9" height="7.9" fill="none" stroke="#2A2C7E" stroke-width="2.4"/>
<rect x="1867.55" y="1780.05" width="7.9" height="7.9" fill="none" stroke="#2A2C7E" stroke-width="2.4"/>
<rect x="1858.35" y="1788.25" width="7.9" height="7.9" fill="none" stroke="#2A2C7E" stroke-width="2.4"/>
<rect x="1858.35" y="1803.45" width="7.9" height="7.9" fill="none" stroke="#2A2C7E" stroke-width="2.4"/>
<rect x="1852.35" y="1838.75" width="7.9" height="7.9" fill="none" stroke="#2A2C7E" stroke-width="2.4"/>
<rect x="1864.35" y="1835.55" width="7.9" height="7.9" fill="none" stroke="#2A2C7E" stroke-width="2.4"/>
<line x1="1855.15" y1="1797.6" x2="1869.55" y2="1797.6" stroke="#000" stroke-width="2.6"/>
<line x1="1862.35" y1="1797.6" x2="1862.35" y2="1809.4" stroke="#000" stroke-width="2.6"/>
<path d="M1938.3 1944 V1814.1 H1965 V1944" fill="none" stroke="#9E1C24" stroke-width="2.4"/>
<rect x="1953.85" y="1688.25" width="7.9" height="7.9" fill="#9E1C24"/>
<rect x="1941.65" y="1698.35" width="7.9" height="7.9" fill="#9E1C24"/>
<rect x="1947.85" y="1717.85" width="7.9" height="7.9" fill="#9E1C24"/>
<rect x="1941.65" y="1733.85" width="7.9" height="7.9" fill="#9E1C24"/>
<rect x="1953.85" y="1732.15" width="7.9" height="7.9" fill="#9E1C24"/>
<rect x="1941.65" y="1762.45" width="7.9" height="7.9" fill="#9E1C24"/>
<rect x="1953.85" y="1772.15" width="7.9" height="7.9" fill="#9E1C24"/>
<rect x="1947.85" y="1786.05" width="7.9" height="7.9" fill="#9E1C24"/>
<rect x="1941.65" y="1794.95" width="7.9" height="7.9" fill="#9E1C24"/>
<rect x="1944.05" y="1801.75" width="7.9" height="7.9" fill="#9E1C24"/>
<rect x="1953.85" y="1801.05" width="7.9" height="7.9" fill="#9E1C24"/>
<rect x="1951.55" y="1806.55" width="7.9" height="7.9" fill="#9E1C24"/>
<rect x="1941.65" y="1822.65" width="7.9" height="7.9" fill="#9E1C24"/>
<rect x="1953.85" y="1822.25" width="7.9" height="7.9" fill="#9E1C24"/>
<rect x="1957.65" y="1827.65" width="7.9" height="7.9" fill="#9E1C24"/>
<rect x="1937.85" y="1836.55" width="7.9" height="7.9" fill="#9E1C24"/>
<rect x="1947.85" y="1836.55" width="7.9" height="7.9" fill="#9E1C24"/>
<rect x="1937.85" y="1857.45" width="7.9" height="7.9" fill="#9E1C24"/>
<rect x="1947.85" y="1860.45" width="7.9" height="7.9" fill="#9E1C24"/>
<rect x="1957.65" y="1859.75" width="7.9" height="7.9" fill="#9E1C24"/>
<rect x="1947.85" y="1887.65" width="7.9" height="7.9" fill="#9E1C24"/>
<rect x="1937.85" y="1901.35" width="7.9" height="7.9" fill="#9E1C24"/>
<rect x="1947.85" y="1903.75" width="7.9" height="7.9" fill="#9E1C24"/>
<rect x="1957.65" y="1902.65" width="7.9" height="7.9" fill="#9E1C24"/>
<line x1="1944.45" y1="1799.6" x2="1958.85" y2="1799.6" stroke="#000" stroke-width="2.6"/>
<line x1="1951.65" y1="1799.6" x2="1951.65" y2="1813.9" stroke="#000" stroke-width="2.6"/>
<path d="M1983 1944 V1813.5 H2009.6 V1944" fill="none" stroke="#C46824" stroke-width="2.4"/>
<rect x="1998.55" y="1751.75" width="7.9" height="7.9" fill="#C46824"/>
<rect x="1986.25" y="1758.75" width="7.9" height="7.9" fill="#C46824"/>
<rect x="1995.85" y="1761.15" width="7.9" height="7.9" fill="#C46824"/>
<rect x="1988.35" y="1762.65" width="7.9" height="7.9" fill="#C46824"/>
<rect x="2001.25" y="1787.45" width="7.9" height="7.9" fill="#C46824"/>
<rect x="1983.25" y="1792.65" width="7.9" height="7.9" fill="#C46824"/>
<rect x="1992.05" y="1794.95" width="7.9" height="7.9" fill="#C46824"/>
<rect x="1986.25" y="1811.05" width="7.9" height="7.9" fill="#C46824"/>
<rect x="1998.25" y="1809.95" width="7.9" height="7.9" fill="#C46824"/>
<rect x="1986.25" y="1836.95" width="7.9" height="7.9" fill="#C46824"/>
<rect x="2004.45" y="1838.55" width="7.9" height="7.9" fill="#C46824"/>
<rect x="1986.25" y="1850.15" width="7.9" height="7.9" fill="#C46824"/>
<rect x="1998.25" y="1849.95" width="7.9" height="7.9" fill="#C46824"/>
<rect x="1988.35" y="1859.75" width="7.9" height="7.9" fill="#C46824"/>
<rect x="1996.25" y="1859.05" width="7.9" height="7.9" fill="#C46824"/>
<line x1="1989.1" y1="1802.3" x2="2003.5" y2="1802.3" stroke="#000" stroke-width="2.6"/>
<line x1="1996.3" y1="1802.3" x2="1996.3" y2="1813.3" stroke="#000" stroke-width="2.6"/>
<path d="M2027.5 1944 V1823.2 H2054.1 V1944" fill="none" stroke="#1E6432" stroke-width="2.4"/>
<rect x="2042.85" y="1712.15" width="7.9" height="7.9" fill="#1E6432"/>
<rect x="2030.85" y="1719.95" width="7.9" height="7.9" fill="#1E6432"/>
<rect x="2037.05" y="1735.65" width="7.9" height="7.9" fill="#1E6432"/>
<rect x="2037.05" y="1752.65" width="7.9" height="7.9" fill="#1E6432"/>
<rect x="2045.85" y="1767.35" width="7.9" height="7.9" fill="#1E6432"/>
<rect x="2028.15" y="1773.85" width="7.9" height="7.9" fill="#1E6432"/>
<rect x="2041.25" y="1774.45" width="7.9" height="7.9" fill="#1E6432"/>
<rect x="2032.65" y="1777.65" width="7.9" height="7.9" fill="#1E6432"/>
<rect x="2036.75" y="1778.95" width="7.9" height="7.9" fill="#1E6432"/>
<rect x="2037.05" y="1793.35" width="7.9" height="7.9" fill="#1E6432"/>
<rect x="2037.05" y="1820.85" width="7.9" height="7.9" fill="#1E6432"/>
<rect x="2037.05" y="1835.85" width="7.9" height="7.9" fill="#1E6432"/>
<rect x="2030.85" y="1851.15" width="7.9" height="7.9" fill="#1E6432"/>
<rect x="2042.85" y="1862.85" width="7.9" height="7.9" fill="#1E6432"/>
<rect x="2027.85" y="1872.25" width="7.9" height="7.9" fill="#1E6432"/>
<rect x="2050.15" y="1877.85" width="7.9" height="7.9" fill="#1E6432"/>
<rect x="2037.05" y="1879.95" width="7.9" height="7.9" fill="#1E6432"/>
<rect x="2045.85" y="1882.95" width="7.9" height="7.9" fill="#1E6432"/>
<rect x="2027.85" y="1894.55" width="7.9" height="7.9" fill="#1E6432"/>
<rect x="2037.05" y="1895.15" width="7.9" height="7.9" fill="#1E6432"/>
<rect x="2037.05" y="1913.85" width="7.9" height="7.9" fill="#1E6432"/>
<line x1="2033.6" y1="1808" x2="2048" y2="1808" stroke="#000" stroke-width="2.6"/>
<line x1="2040.8" y1="1808" x2="2040.8" y2="1823" stroke="#000" stroke-width="2.6"/>
<path d="M2072.1 1944 V1828.2 H2098.8 V1944" fill="none" stroke="#2A2C7E" stroke-width="2.4"/>
<rect x="2081.35" y="1751.95" width="7.9" height="7.9" fill="#2A2C7E"/>
<rect x="2087.95" y="1774.25" width="7.9" height="7.9" fill="#2A2C7E"/>
<rect x="2075.35" y="1778.95" width="7.9" height="7.9" fill="#2A2C7E"/>
<rect x="2081.35" y="1806.55" width="7.9" height="7.9" fill="#2A2C7E"/>
<rect x="2072.65" y="1819.45" width="7.9" height="7.9" fill="#2A2C7E"/>
<rect x="2094.95" y="1822.85" width="7.9" height="7.9" fill="#2A2C7E"/>
<rect x="2081.35" y="1826.35" width="7.9" height="7.9" fill="#2A2C7E"/>
<rect x="2090.65" y="1826.75" width="7.9" height="7.9" fill="#2A2C7E"/>
<rect x="2072.65" y="1833.85" width="7.9" height="7.9" fill="#2A2C7E"/>
<rect x="2081.35" y="1837.95" width="7.9" height="7.9" fill="#2A2C7E"/>
<rect x="2075.35" y="1858.35" width="7.9" height="7.9" fill="#2A2C7E"/>
<rect x="2087.95" y="1856.95" width="7.9" height="7.9" fill="#2A2C7E"/>
<rect x="2084.45" y="1862.45" width="7.9" height="7.9" fill="#2A2C7E"/>
<rect x="2077.65" y="1865.85" width="7.9" height="7.9" fill="#2A2C7E"/>
<line x1="2078.25" y1="1817.6" x2="2092.65" y2="1817.6" stroke="#000" stroke-width="2.6"/>
<line x1="2085.45" y1="1817.6" x2="2085.45" y2="1828" stroke="#000" stroke-width="2.6"/>
<line x1="1718.3" y1="1962.6" x2="1873.3" y2="1962.6" stroke="#000" stroke-width="4.2"/>
<line x1="1943.2" y1="1962.6" x2="2102" y2="1962.6" stroke="#000" stroke-width="4.2"/>
<text x="1801.9" y="1998.2" font-size="22" font-weight="bold" text-anchor="middle" textLength="79.6" lengthAdjust="spacingAndGlyphs">Control</text>
<text x="2023.2" y="1998.2" font-size="22" font-weight="bold" text-anchor="middle" textLength="79.6" lengthAdjust="spacingAndGlyphs">Ethanol</text>
</svg></body></html>
